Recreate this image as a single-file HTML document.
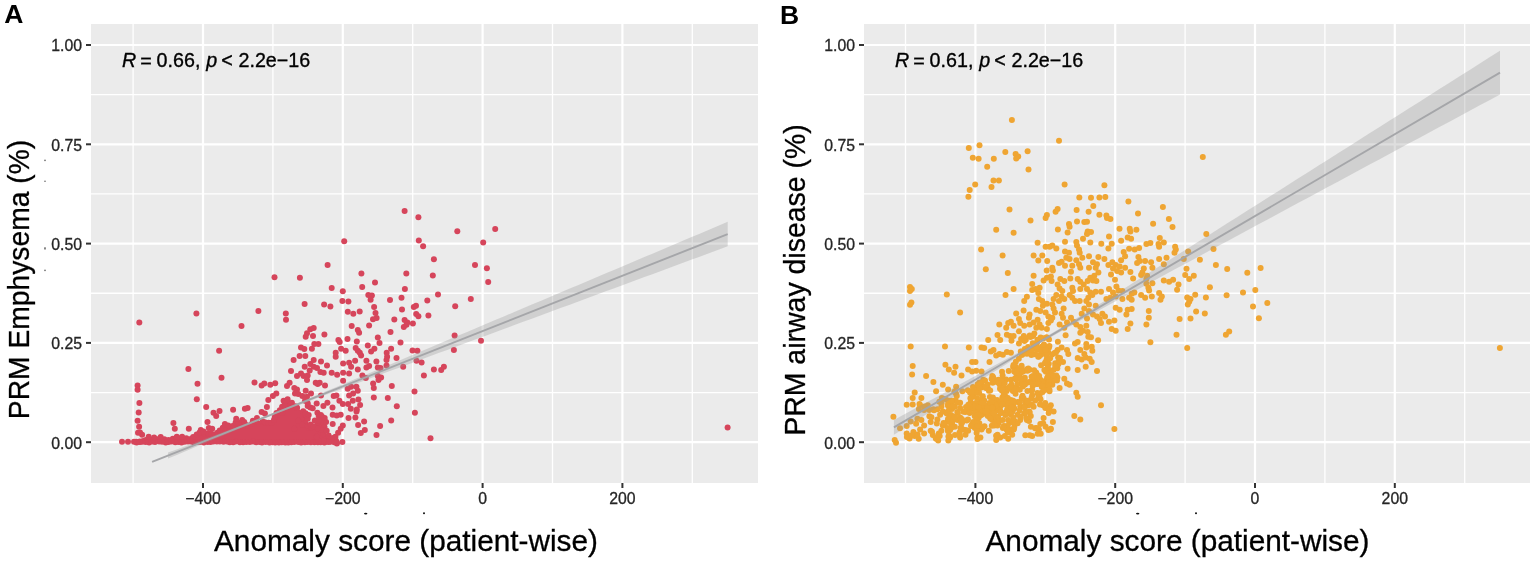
<!DOCTYPE html><html><head><meta charset="utf-8"><style>html,body{margin:0;padding:0;background:#fff;width:1535px;height:562px;overflow:hidden}svg{display:block}</style></head><body>
<svg width="1535" height="562" viewBox="0 0 1535 562">
<style>.tk{font-family:"Liberation Sans",Arial,sans-serif;font-size:15.8px;fill:#262626;stroke:#262626;stroke-width:0.3px}.rt{font-family:"Liberation Sans",Arial,sans-serif;font-size:19.7px;fill:#000;stroke:#000;stroke-width:0.35px}.at{font-family:"Liberation Sans",Arial,sans-serif;font-size:30px;fill:#000;stroke:#000;stroke-width:0.3px}.pl{font-family:"Liberation Sans",Arial,sans-serif;font-size:26.5px;font-weight:bold;fill:#000}</style>
<rect x="91" y="24" width="667" height="459" fill="#ebebeb"/>
<line x1="91" x2="758" y1="392.55" y2="392.55" stroke="#fff" stroke-width="1.3"/>
<line x1="91" x2="758" y1="293.25" y2="293.25" stroke="#fff" stroke-width="1.3"/>
<line x1="91" x2="758" y1="193.95" y2="193.95" stroke="#fff" stroke-width="1.3"/>
<line x1="91" x2="758" y1="94.65" y2="94.65" stroke="#fff" stroke-width="1.3"/>
<line x1="133.10" x2="133.10" y1="24" y2="483" stroke="#fff" stroke-width="1.3"/>
<line x1="272.90" x2="272.90" y1="24" y2="483" stroke="#fff" stroke-width="1.3"/>
<line x1="412.70" x2="412.70" y1="24" y2="483" stroke="#fff" stroke-width="1.3"/>
<line x1="552.50" x2="552.50" y1="24" y2="483" stroke="#fff" stroke-width="1.3"/>
<line x1="692.30" x2="692.30" y1="24" y2="483" stroke="#fff" stroke-width="1.3"/>
<line x1="91" x2="758" y1="442.20" y2="442.20" stroke="#fff" stroke-width="2.2"/>
<line x1="91" x2="758" y1="342.90" y2="342.90" stroke="#fff" stroke-width="2.2"/>
<line x1="91" x2="758" y1="243.60" y2="243.60" stroke="#fff" stroke-width="2.2"/>
<line x1="91" x2="758" y1="144.30" y2="144.30" stroke="#fff" stroke-width="2.2"/>
<line x1="91" x2="758" y1="45.00" y2="45.00" stroke="#fff" stroke-width="2.2"/>
<line x1="203.00" x2="203.00" y1="24" y2="483" stroke="#fff" stroke-width="2.2"/>
<line x1="342.80" x2="342.80" y1="24" y2="483" stroke="#fff" stroke-width="2.2"/>
<line x1="482.60" x2="482.60" y1="24" y2="483" stroke="#fff" stroke-width="2.2"/>
<line x1="622.40" x2="622.40" y1="24" y2="483" stroke="#fff" stroke-width="2.2"/>
<g fill="#d6455b">
<polygon points="136.0,441.5 150.0,439.5 165.0,439.5 180.0,439.0 190.0,438.5 200.0,432.0 215.0,435.0 223.0,428.0 230.0,430.0 235.0,423.0 242.0,422.0 248.0,426.0 256.0,421.0 262.0,421.0 265.0,422.4 272.0,422.4 277.0,413.3 282.3,406.2 287.4,401.1 292.4,403.1 297.5,408.2 302.6,411.3 307.7,418.4 305.6,423.4 309.7,427.5 315.8,426.5 318.8,419.4 322.9,420.4 324.9,426.5 322.9,433.6 328.0,435.6 333.0,437.6 336.0,441.0 337.0,444.0 337.0,442.0 136.0,442.0"/>
<circle cx="136.1" cy="441.8" r="3.0"/>
<circle cx="139.9" cy="441.5" r="3.0"/>
<circle cx="143.3" cy="441.0" r="3.0"/>
<circle cx="145.9" cy="440.0" r="3.0"/>
<circle cx="150.5" cy="439.7" r="3.0"/>
<circle cx="154.2" cy="439.0" r="3.0"/>
<circle cx="157.5" cy="439.2" r="3.0"/>
<circle cx="161.3" cy="439.6" r="3.0"/>
<circle cx="164.4" cy="439.2" r="3.0"/>
<circle cx="168.5" cy="439.9" r="3.0"/>
<circle cx="172.8" cy="438.8" r="3.0"/>
<circle cx="176.6" cy="438.7" r="3.0"/>
<circle cx="180.1" cy="438.6" r="3.0"/>
<circle cx="182.7" cy="439.3" r="3.0"/>
<circle cx="186.3" cy="438.3" r="3.0"/>
<circle cx="190.6" cy="438.9" r="3.0"/>
<circle cx="193.1" cy="436.9" r="3.0"/>
<circle cx="196.7" cy="434.4" r="3.0"/>
<circle cx="199.6" cy="432.5" r="3.0"/>
<circle cx="204.0" cy="433.3" r="3.0"/>
<circle cx="208.0" cy="433.3" r="3.0"/>
<circle cx="211.1" cy="433.8" r="3.0"/>
<circle cx="214.6" cy="434.5" r="3.0"/>
<circle cx="217.4" cy="432.8" r="3.0"/>
<circle cx="219.7" cy="430.5" r="3.0"/>
<circle cx="222.8" cy="427.8" r="3.0"/>
<circle cx="226.9" cy="429.0" r="3.0"/>
<circle cx="229.8" cy="430.0" r="3.0"/>
<circle cx="232.7" cy="426.0" r="3.0"/>
<circle cx="235.6" cy="422.4" r="3.0"/>
<circle cx="238.8" cy="422.9" r="3.0"/>
<circle cx="241.4" cy="422.3" r="3.0"/>
<circle cx="244.8" cy="424.1" r="3.0"/>
<circle cx="247.4" cy="425.5" r="3.0"/>
<circle cx="251.6" cy="424.0" r="3.0"/>
<circle cx="255.6" cy="421.3" r="3.0"/>
<circle cx="262.5" cy="421.5" r="3.0"/>
<circle cx="264.8" cy="422.2" r="3.0"/>
<circle cx="268.5" cy="422.7" r="3.0"/>
<circle cx="271.5" cy="422.7" r="3.0"/>
<circle cx="274.0" cy="419.8" r="3.0"/>
<circle cx="274.8" cy="416.9" r="3.0"/>
<circle cx="276.5" cy="413.1" r="3.0"/>
<circle cx="279.8" cy="410.3" r="3.0"/>
<circle cx="282.1" cy="406.7" r="3.0"/>
<circle cx="284.9" cy="403.4" r="3.0"/>
<circle cx="287.2" cy="400.7" r="3.0"/>
<circle cx="291.9" cy="402.7" r="3.0"/>
<circle cx="295.2" cy="406.2" r="3.0"/>
<circle cx="297.1" cy="407.7" r="3.0"/>
<circle cx="303.2" cy="411.3" r="3.0"/>
<circle cx="305.0" cy="414.5" r="3.0"/>
<circle cx="307.8" cy="418.8" r="3.0"/>
<circle cx="305.5" cy="423.3" r="3.0"/>
<circle cx="309.2" cy="428.0" r="3.0"/>
<circle cx="315.2" cy="426.5" r="3.0"/>
<circle cx="317.7" cy="422.5" r="3.0"/>
<circle cx="319.1" cy="419.9" r="3.0"/>
<circle cx="323.1" cy="420.7" r="3.0"/>
<circle cx="323.4" cy="423.4" r="3.0"/>
<circle cx="324.5" cy="426.9" r="3.0"/>
<circle cx="323.7" cy="430.0" r="3.0"/>
<circle cx="323.5" cy="434.0" r="3.0"/>
<circle cx="328.6" cy="435.5" r="3.0"/>
<circle cx="333.0" cy="437.9" r="3.0"/>
<circle cx="336.0" cy="440.7" r="3.0"/>
<circle cx="336.9" cy="443.6" r="3.0"/>
<circle cx="336.9" cy="442.6" r="3.0"/>
<circle cx="334.3" cy="442.2" r="3.0"/>
<circle cx="330.5" cy="441.8" r="3.0"/>
<circle cx="326.8" cy="441.7" r="3.0"/>
<circle cx="324.4" cy="442.4" r="3.0"/>
<circle cx="320.6" cy="442.3" r="3.0"/>
<circle cx="317.9" cy="442.2" r="3.0"/>
<circle cx="314.5" cy="442.3" r="3.0"/>
<circle cx="310.9" cy="442.2" r="3.0"/>
<circle cx="307.6" cy="442.0" r="3.0"/>
<circle cx="304.9" cy="442.2" r="3.0"/>
<circle cx="301.1" cy="442.5" r="3.0"/>
<circle cx="298.3" cy="442.1" r="3.0"/>
<circle cx="294.3" cy="442.1" r="3.0"/>
<circle cx="291.3" cy="442.2" r="3.0"/>
<circle cx="288.3" cy="442.4" r="3.0"/>
<circle cx="285.3" cy="442.4" r="3.0"/>
<circle cx="281.7" cy="442.2" r="3.0"/>
<circle cx="278.9" cy="442.4" r="3.0"/>
<circle cx="275.2" cy="442.4" r="3.0"/>
<circle cx="272.6" cy="442.2" r="3.0"/>
<circle cx="269.5" cy="442.5" r="3.0"/>
<circle cx="265.7" cy="442.0" r="3.0"/>
<circle cx="262.0" cy="442.4" r="3.0"/>
<circle cx="259.7" cy="442.0" r="3.0"/>
<circle cx="256.2" cy="442.3" r="3.0"/>
<circle cx="253.0" cy="441.6" r="3.0"/>
<circle cx="249.8" cy="442.1" r="3.0"/>
<circle cx="246.4" cy="441.9" r="3.0"/>
<circle cx="243.1" cy="442.3" r="3.0"/>
<circle cx="239.9" cy="442.3" r="3.0"/>
<circle cx="235.9" cy="441.6" r="3.0"/>
<circle cx="233.2" cy="442.2" r="3.0"/>
<circle cx="229.7" cy="442.2" r="3.0"/>
<circle cx="226.9" cy="441.5" r="3.0"/>
<circle cx="223.5" cy="441.7" r="3.0"/>
<circle cx="219.8" cy="441.6" r="3.0"/>
<circle cx="216.8" cy="441.6" r="3.0"/>
<circle cx="213.4" cy="441.4" r="3.0"/>
<circle cx="210.5" cy="441.9" r="3.0"/>
<circle cx="207.5" cy="442.1" r="3.0"/>
<circle cx="203.8" cy="442.5" r="3.0"/>
<circle cx="200.2" cy="441.9" r="3.0"/>
<circle cx="197.3" cy="441.9" r="3.0"/>
<circle cx="193.9" cy="442.4" r="3.0"/>
<circle cx="191.0" cy="441.4" r="3.0"/>
<circle cx="188.0" cy="441.5" r="3.0"/>
<circle cx="184.7" cy="441.8" r="3.0"/>
<circle cx="181.5" cy="442.5" r="3.0"/>
<circle cx="178.5" cy="441.9" r="3.0"/>
<circle cx="175.3" cy="442.2" r="3.0"/>
<circle cx="171.5" cy="441.6" r="3.0"/>
<circle cx="168.5" cy="442.1" r="3.0"/>
<circle cx="165.7" cy="442.6" r="3.0"/>
<circle cx="162.1" cy="441.8" r="3.0"/>
<circle cx="159.2" cy="441.4" r="3.0"/>
<circle cx="155.0" cy="442.1" r="3.0"/>
<circle cx="152.3" cy="441.6" r="3.0"/>
<circle cx="149.1" cy="442.5" r="3.0"/>
<circle cx="145.6" cy="441.9" r="3.0"/>
<circle cx="142.2" cy="441.7" r="3.0"/>
<circle cx="139.8" cy="441.9" r="3.0"/>
<circle cx="136.6" cy="442.5" r="3.0"/>
<circle cx="404.6" cy="211.1" r="3.0"/>
<circle cx="418.4" cy="217.2" r="3.0"/>
<circle cx="344.2" cy="241.2" r="3.0"/>
<circle cx="418.8" cy="240.6" r="3.0"/>
<circle cx="423.1" cy="246.3" r="3.0"/>
<circle cx="433.9" cy="259.3" r="3.0"/>
<circle cx="274.5" cy="277.3" r="3.0"/>
<circle cx="196.4" cy="313.6" r="3.0"/>
<circle cx="258.4" cy="311.0" r="3.0"/>
<circle cx="139.3" cy="322.4" r="3.0"/>
<circle cx="327.6" cy="265.1" r="3.0"/>
<circle cx="299.9" cy="277.8" r="3.0"/>
<circle cx="361.4" cy="273.6" r="3.0"/>
<circle cx="406.3" cy="273.4" r="3.0"/>
<circle cx="432.8" cy="275.5" r="3.0"/>
<circle cx="375.0" cy="282.6" r="3.0"/>
<circle cx="362.2" cy="286.9" r="3.0"/>
<circle cx="331.7" cy="288.0" r="3.0"/>
<circle cx="342.8" cy="291.2" r="3.0"/>
<circle cx="404.9" cy="288.9" r="3.0"/>
<circle cx="438.0" cy="294.4" r="3.0"/>
<circle cx="368.3" cy="295.0" r="3.0"/>
<circle cx="371.9" cy="295.4" r="3.0"/>
<circle cx="370.6" cy="299.7" r="3.0"/>
<circle cx="390.0" cy="300.0" r="3.0"/>
<circle cx="401.5" cy="297.8" r="3.0"/>
<circle cx="427.3" cy="300.5" r="3.0"/>
<circle cx="304.6" cy="303.9" r="3.0"/>
<circle cx="324.1" cy="304.4" r="3.0"/>
<circle cx="330.4" cy="306.6" r="3.0"/>
<circle cx="342.4" cy="301.0" r="3.0"/>
<circle cx="348.4" cy="301.6" r="3.0"/>
<circle cx="374.1" cy="307.1" r="3.0"/>
<circle cx="402.0" cy="309.6" r="3.0"/>
<circle cx="413.8" cy="306.9" r="3.0"/>
<circle cx="416.0" cy="305.7" r="3.0"/>
<circle cx="285.8" cy="313.5" r="3.0"/>
<circle cx="286.0" cy="319.8" r="3.0"/>
<circle cx="347.8" cy="311.8" r="3.0"/>
<circle cx="353.3" cy="313.7" r="3.0"/>
<circle cx="359.7" cy="311.5" r="3.0"/>
<circle cx="375.5" cy="312.9" r="3.0"/>
<circle cx="376.6" cy="317.9" r="3.0"/>
<circle cx="373.0" cy="319.3" r="3.0"/>
<circle cx="394.3" cy="319.6" r="3.0"/>
<circle cx="416.2" cy="314.1" r="3.0"/>
<circle cx="418.4" cy="316.3" r="3.0"/>
<circle cx="428.4" cy="315.4" r="3.0"/>
<circle cx="404.6" cy="320.1" r="3.0"/>
<circle cx="407.4" cy="322.4" r="3.0"/>
<circle cx="412.9" cy="323.5" r="3.0"/>
<circle cx="457.3" cy="231.3" r="3.0"/>
<circle cx="495.2" cy="229.0" r="3.0"/>
<circle cx="483.2" cy="242.4" r="3.0"/>
<circle cx="475.0" cy="265.0" r="3.0"/>
<circle cx="486.9" cy="268.2" r="3.0"/>
<circle cx="488.2" cy="282.0" r="3.0"/>
<circle cx="470.8" cy="299.1" r="3.0"/>
<circle cx="455.2" cy="306.3" r="3.0"/>
<circle cx="241.5" cy="326.0" r="3.0"/>
<circle cx="219.1" cy="350.7" r="3.0"/>
<circle cx="188.4" cy="369.1" r="3.0"/>
<circle cx="221.5" cy="377.8" r="3.0"/>
<circle cx="197.5" cy="383.8" r="3.0"/>
<circle cx="137.6" cy="385.4" r="3.0"/>
<circle cx="137.6" cy="389.7" r="3.0"/>
<circle cx="254.5" cy="382.4" r="3.0"/>
<circle cx="261.6" cy="385.4" r="3.0"/>
<circle cx="264.3" cy="383.4" r="3.0"/>
<circle cx="270.3" cy="384.8" r="3.0"/>
<circle cx="275.2" cy="383.2" r="3.0"/>
<circle cx="276.3" cy="393.4" r="3.0"/>
<circle cx="272.9" cy="396.1" r="3.0"/>
<circle cx="287.0" cy="386.1" r="3.0"/>
<circle cx="289.6" cy="382.8" r="3.0"/>
<circle cx="294.3" cy="388.1" r="3.0"/>
<circle cx="297.0" cy="389.4" r="3.0"/>
<circle cx="295.0" cy="393.4" r="3.0"/>
<circle cx="298.3" cy="394.1" r="3.0"/>
<circle cx="305.7" cy="390.8" r="3.0"/>
<circle cx="311.0" cy="393.4" r="3.0"/>
<circle cx="302.3" cy="396.1" r="3.0"/>
<circle cx="307.0" cy="396.8" r="3.0"/>
<circle cx="291.0" cy="371.1" r="3.0"/>
<circle cx="293.6" cy="360.1" r="3.0"/>
<circle cx="299.6" cy="356.1" r="3.0"/>
<circle cx="305.3" cy="356.1" r="3.0"/>
<circle cx="301.0" cy="347.4" r="3.0"/>
<circle cx="304.3" cy="349.1" r="3.0"/>
<circle cx="311.9" cy="348.7" r="3.0"/>
<circle cx="304.7" cy="366.7" r="3.0"/>
<circle cx="309.7" cy="370.5" r="3.0"/>
<circle cx="310.3" cy="364.1" r="3.0"/>
<circle cx="313.7" cy="366.7" r="3.0"/>
<circle cx="297.0" cy="376.1" r="3.0"/>
<circle cx="301.0" cy="373.4" r="3.0"/>
<circle cx="303.6" cy="376.1" r="3.0"/>
<circle cx="307.7" cy="375.4" r="3.0"/>
<circle cx="307.0" cy="380.1" r="3.0"/>
<circle cx="305.7" cy="336.7" r="3.0"/>
<circle cx="307.0" cy="333.3" r="3.0"/>
<circle cx="310.3" cy="329.3" r="3.0"/>
<circle cx="313.7" cy="328.0" r="3.0"/>
<circle cx="313.0" cy="336.0" r="3.0"/>
<circle cx="314.3" cy="344.0" r="3.0"/>
<circle cx="313.7" cy="360.1" r="3.0"/>
<circle cx="324.4" cy="334.4" r="3.0"/>
<circle cx="351.7" cy="326.0" r="3.0"/>
<circle cx="369.1" cy="325.6" r="3.0"/>
<circle cx="357.8" cy="330.0" r="3.0"/>
<circle cx="359.1" cy="332.7" r="3.0"/>
<circle cx="403.8" cy="326.9" r="3.0"/>
<circle cx="406.5" cy="324.7" r="3.0"/>
<circle cx="390.5" cy="332.0" r="3.0"/>
<circle cx="454.6" cy="335.4" r="3.0"/>
<circle cx="481.0" cy="340.7" r="3.0"/>
<circle cx="377.8" cy="337.4" r="3.0"/>
<circle cx="379.5" cy="343.1" r="3.0"/>
<circle cx="367.8" cy="345.4" r="3.0"/>
<circle cx="374.4" cy="348.7" r="3.0"/>
<circle cx="371.1" cy="351.4" r="3.0"/>
<circle cx="400.5" cy="342.4" r="3.0"/>
<circle cx="391.1" cy="348.7" r="3.0"/>
<circle cx="412.5" cy="350.4" r="3.0"/>
<circle cx="417.4" cy="350.7" r="3.0"/>
<circle cx="453.9" cy="350.0" r="3.0"/>
<circle cx="338.4" cy="340.0" r="3.0"/>
<circle cx="339.7" cy="342.0" r="3.0"/>
<circle cx="347.5" cy="339.0" r="3.0"/>
<circle cx="356.8" cy="341.6" r="3.0"/>
<circle cx="318.4" cy="344.0" r="3.0"/>
<circle cx="341.1" cy="348.7" r="3.0"/>
<circle cx="345.7" cy="350.7" r="3.0"/>
<circle cx="355.7" cy="348.0" r="3.0"/>
<circle cx="357.8" cy="350.7" r="3.0"/>
<circle cx="359.8" cy="352.7" r="3.0"/>
<circle cx="361.1" cy="355.4" r="3.0"/>
<circle cx="335.7" cy="352.7" r="3.0"/>
<circle cx="335.7" cy="356.7" r="3.0"/>
<circle cx="355.1" cy="360.7" r="3.0"/>
<circle cx="366.4" cy="360.7" r="3.0"/>
<circle cx="376.4" cy="361.4" r="3.0"/>
<circle cx="386.7" cy="352.7" r="3.0"/>
<circle cx="387.1" cy="356.7" r="3.0"/>
<circle cx="386.5" cy="360.1" r="3.0"/>
<circle cx="396.5" cy="358.1" r="3.0"/>
<circle cx="416.5" cy="360.7" r="3.0"/>
<circle cx="421.6" cy="362.5" r="3.0"/>
<circle cx="403.2" cy="366.7" r="3.0"/>
<circle cx="433.9" cy="369.4" r="3.0"/>
<circle cx="441.2" cy="370.1" r="3.0"/>
<circle cx="443.9" cy="366.7" r="3.0"/>
<circle cx="423.9" cy="375.4" r="3.0"/>
<circle cx="343.1" cy="363.4" r="3.0"/>
<circle cx="349.1" cy="362.7" r="3.0"/>
<circle cx="351.1" cy="366.7" r="3.0"/>
<circle cx="357.8" cy="369.4" r="3.0"/>
<circle cx="366.4" cy="367.4" r="3.0"/>
<circle cx="369.1" cy="366.1" r="3.0"/>
<circle cx="377.8" cy="367.4" r="3.0"/>
<circle cx="380.5" cy="368.1" r="3.0"/>
<circle cx="386.5" cy="365.4" r="3.0"/>
<circle cx="327.0" cy="365.4" r="3.0"/>
<circle cx="321.0" cy="361.4" r="3.0"/>
<circle cx="317.0" cy="368.1" r="3.0"/>
<circle cx="320.4" cy="372.1" r="3.0"/>
<circle cx="323.7" cy="372.7" r="3.0"/>
<circle cx="331.7" cy="372.7" r="3.0"/>
<circle cx="337.1" cy="374.7" r="3.0"/>
<circle cx="343.1" cy="372.7" r="3.0"/>
<circle cx="349.1" cy="373.4" r="3.0"/>
<circle cx="362.4" cy="375.4" r="3.0"/>
<circle cx="365.8" cy="378.1" r="3.0"/>
<circle cx="377.8" cy="376.1" r="3.0"/>
<circle cx="381.1" cy="377.4" r="3.0"/>
<circle cx="378.5" cy="380.1" r="3.0"/>
<circle cx="373.1" cy="383.4" r="3.0"/>
<circle cx="373.8" cy="388.1" r="3.0"/>
<circle cx="391.8" cy="386.1" r="3.0"/>
<circle cx="414.5" cy="391.4" r="3.0"/>
<circle cx="343.1" cy="380.8" r="3.0"/>
<circle cx="325.0" cy="385.4" r="3.0"/>
<circle cx="315.7" cy="382.8" r="3.0"/>
<circle cx="317.7" cy="384.1" r="3.0"/>
<circle cx="319.7" cy="382.8" r="3.0"/>
<circle cx="347.7" cy="388.8" r="3.0"/>
<circle cx="351.1" cy="386.8" r="3.0"/>
<circle cx="356.4" cy="386.8" r="3.0"/>
<circle cx="357.8" cy="390.8" r="3.0"/>
<circle cx="353.1" cy="393.4" r="3.0"/>
<circle cx="349.1" cy="395.4" r="3.0"/>
<circle cx="333.7" cy="396.1" r="3.0"/>
<circle cx="336.4" cy="395.4" r="3.0"/>
<circle cx="321.0" cy="395.4" r="3.0"/>
<circle cx="373.8" cy="397.5" r="3.0"/>
<circle cx="387.8" cy="398.1" r="3.0"/>
<circle cx="139.4" cy="403.1" r="3.0"/>
<circle cx="138.7" cy="412.4" r="3.0"/>
<circle cx="137.6" cy="420.7" r="3.0"/>
<circle cx="139.1" cy="426.7" r="3.0"/>
<circle cx="140.0" cy="432.5" r="3.0"/>
<circle cx="142.1" cy="434.7" r="3.0"/>
<circle cx="138.0" cy="432.7" r="3.0"/>
<circle cx="196.8" cy="399.3" r="3.0"/>
<circle cx="206.2" cy="407.1" r="3.0"/>
<circle cx="213.5" cy="412.7" r="3.0"/>
<circle cx="216.2" cy="416.0" r="3.0"/>
<circle cx="219.5" cy="411.1" r="3.0"/>
<circle cx="233.1" cy="409.8" r="3.0"/>
<circle cx="244.9" cy="408.7" r="3.0"/>
<circle cx="247.6" cy="408.0" r="3.0"/>
<circle cx="268.3" cy="400.0" r="3.0"/>
<circle cx="266.9" cy="407.1" r="3.0"/>
<circle cx="207.5" cy="422.1" r="3.0"/>
<circle cx="173.4" cy="423.1" r="3.0"/>
<circle cx="174.8" cy="428.7" r="3.0"/>
<circle cx="188.8" cy="428.7" r="3.0"/>
<circle cx="208.8" cy="428.1" r="3.0"/>
<circle cx="212.2" cy="428.7" r="3.0"/>
<circle cx="200.8" cy="430.1" r="3.0"/>
<circle cx="203.5" cy="431.4" r="3.0"/>
<circle cx="224.9" cy="424.1" r="3.0"/>
<circle cx="228.2" cy="425.4" r="3.0"/>
<circle cx="236.2" cy="418.7" r="3.0"/>
<circle cx="242.2" cy="420.0" r="3.0"/>
<circle cx="244.2" cy="422.1" r="3.0"/>
<circle cx="261.6" cy="412.0" r="3.0"/>
<circle cx="264.9" cy="413.4" r="3.0"/>
<circle cx="256.9" cy="418.0" r="3.0"/>
<circle cx="252.9" cy="420.7" r="3.0"/>
<circle cx="148.7" cy="436.7" r="3.0"/>
<circle cx="154.1" cy="437.4" r="3.0"/>
<circle cx="160.7" cy="437.0" r="3.0"/>
<circle cx="176.8" cy="436.7" r="3.0"/>
<circle cx="182.1" cy="436.7" r="3.0"/>
<circle cx="122.0" cy="441.8" r="3.0"/>
<circle cx="128.0" cy="441.8" r="3.0"/>
<circle cx="134.0" cy="441.8" r="3.0"/>
<circle cx="283.6" cy="400.7" r="3.0"/>
<circle cx="287.6" cy="399.3" r="3.0"/>
<circle cx="305.0" cy="400.7" r="3.0"/>
<circle cx="307.7" cy="406.0" r="3.0"/>
<circle cx="310.3" cy="407.4" r="3.0"/>
<circle cx="306.3" cy="415.4" r="3.0"/>
<circle cx="298.3" cy="420.7" r="3.0"/>
<circle cx="302.3" cy="424.7" r="3.0"/>
<circle cx="307.7" cy="426.1" r="3.0"/>
<circle cx="311.0" cy="427.4" r="3.0"/>
<circle cx="294.3" cy="428.7" r="3.0"/>
<circle cx="282.3" cy="412.7" r="3.0"/>
<circle cx="285.0" cy="406.0" r="3.0"/>
<circle cx="396.8" cy="406.3" r="3.0"/>
<circle cx="414.9" cy="412.7" r="3.0"/>
<circle cx="391.2" cy="420.4" r="3.0"/>
<circle cx="380.1" cy="426.1" r="3.0"/>
<circle cx="364.1" cy="421.4" r="3.0"/>
<circle cx="358.1" cy="425.0" r="3.0"/>
<circle cx="364.8" cy="430.1" r="3.0"/>
<circle cx="360.8" cy="433.0" r="3.0"/>
<circle cx="376.5" cy="435.1" r="3.0"/>
<circle cx="430.5" cy="438.3" r="3.0"/>
<circle cx="342.4" cy="442.1" r="3.0"/>
<circle cx="348.5" cy="418.0" r="3.0"/>
<circle cx="355.4" cy="417.4" r="3.0"/>
<circle cx="356.5" cy="411.4" r="3.0"/>
<circle cx="356.8" cy="409.4" r="3.0"/>
<circle cx="350.8" cy="408.7" r="3.0"/>
<circle cx="348.1" cy="404.0" r="3.0"/>
<circle cx="342.8" cy="404.0" r="3.0"/>
<circle cx="339.4" cy="400.7" r="3.0"/>
<circle cx="360.1" cy="405.0" r="3.0"/>
<circle cx="358.4" cy="399.6" r="3.0"/>
<circle cx="352.8" cy="400.7" r="3.0"/>
<circle cx="332.7" cy="414.7" r="3.0"/>
<circle cx="336.7" cy="415.4" r="3.0"/>
<circle cx="340.7" cy="414.7" r="3.0"/>
<circle cx="332.7" cy="424.1" r="3.0"/>
<circle cx="326.7" cy="430.7" r="3.0"/>
<circle cx="326.1" cy="422.1" r="3.0"/>
<circle cx="323.4" cy="406.0" r="3.0"/>
<circle cx="327.4" cy="402.7" r="3.0"/>
<circle cx="332.5" cy="407.4" r="3.0"/>
<circle cx="316.7" cy="403.4" r="3.0"/>
<circle cx="342.8" cy="425.4" r="3.0"/>
<circle cx="340.7" cy="428.7" r="3.0"/>
<circle cx="338.1" cy="432.7" r="3.0"/>
<circle cx="335.4" cy="436.7" r="3.0"/>
<circle cx="331.4" cy="438.7" r="3.0"/>
<circle cx="328.7" cy="442.1" r="3.0"/>
<circle cx="323.4" cy="440.7" r="3.0"/>
<circle cx="318.7" cy="440.7" r="3.0"/>
<circle cx="316.7" cy="436.7" r="3.0"/>
<circle cx="320.7" cy="430.1" r="3.0"/>
<circle cx="318.7" cy="416.0" r="3.0"/>
<circle cx="317.4" cy="412.7" r="3.0"/>
<circle cx="322.1" cy="416.7" r="3.0"/>
<circle cx="324.7" cy="418.0" r="3.0"/>
<circle cx="727.6" cy="427.6" r="3.0"/>
<circle cx="307.7" cy="403.2" r="3.0"/>
<circle cx="312.7" cy="408.3" r="3.0"/>
<circle cx="305.6" cy="413.3" r="3.0"/>
<circle cx="308.7" cy="414.9" r="3.0"/>
<circle cx="320.9" cy="414.9" r="3.0"/>
<circle cx="314.8" cy="420.4" r="3.0"/>
<circle cx="318.8" cy="420.4" r="3.0"/>
<circle cx="310.7" cy="424.5" r="3.0"/>
<circle cx="313.7" cy="426.5" r="3.0"/>
<circle cx="317.8" cy="428.6" r="3.0"/>
</g>
<polygon points="168.00,452.61 177.33,449.15 186.66,445.69 195.99,442.22 205.31,438.75 214.64,435.27 223.97,431.78 233.30,428.28 242.63,424.76 251.95,421.20 261.28,417.61 270.61,413.96 279.94,410.25 289.27,406.49 298.60,402.68 307.93,398.83 317.25,394.96 326.58,391.07 335.91,387.17 345.24,383.26 354.57,379.35 363.89,375.43 373.22,371.50 382.55,367.58 391.88,363.65 401.21,359.72 410.54,355.78 419.87,351.85 429.19,347.92 438.52,343.98 447.85,340.05 457.18,336.11 466.51,332.17 475.84,328.23 485.16,324.30 494.49,320.36 503.82,316.42 513.15,312.48 522.48,308.54 531.81,304.60 541.13,300.66 550.46,296.72 559.79,292.78 569.12,288.84 578.45,284.90 587.78,280.96 597.10,277.02 606.43,273.08 615.76,269.14 625.09,265.20 634.42,261.26 643.75,257.32 653.07,253.38 662.40,249.44 671.73,245.50 681.06,241.56 690.39,237.61 699.72,233.67 709.04,229.73 718.37,225.79 727.70,221.85 727.70,246.35 718.37,249.79 709.04,253.23 699.72,256.68 690.39,260.12 681.06,263.56 671.73,267.00 662.40,270.45 653.07,273.89 643.75,277.33 634.42,280.78 625.09,284.22 615.76,287.66 606.43,291.10 597.10,294.55 587.78,297.99 578.45,301.43 569.12,304.88 559.79,308.32 550.46,311.77 541.13,315.21 531.81,318.65 522.48,322.10 513.15,325.54 503.82,328.99 494.49,332.43 485.16,335.88 475.84,339.32 466.51,342.77 457.18,346.22 447.85,349.66 438.52,353.11 429.19,356.56 419.87,360.01 410.54,363.46 401.21,366.91 391.88,370.36 382.55,373.82 373.22,377.27 363.89,380.73 354.57,384.20 345.24,387.66 335.91,391.14 326.58,394.62 317.25,398.12 307.93,401.63 298.60,405.17 289.27,408.74 279.94,412.36 270.61,416.04 261.28,419.77 251.95,423.56 242.63,427.39 233.30,431.25 223.97,435.13 214.64,439.02 205.31,442.93 195.99,446.84 186.66,450.76 177.33,454.68 168.00,458.61" fill="#999" fill-opacity="0.32"/>
<line x1="152.1" y1="461.9" x2="727.7" y2="234.1" stroke="#a5a6a9" stroke-width="1.9"/>
<line x1="86" x2="91" y1="442.20" y2="442.20" stroke="#333" stroke-width="2"/>
<text x="82" y="448.60" text-anchor="end" class="tk">0.00</text>
<line x1="86" x2="91" y1="342.90" y2="342.90" stroke="#333" stroke-width="2"/>
<text x="82" y="349.30" text-anchor="end" class="tk">0.25</text>
<line x1="86" x2="91" y1="243.60" y2="243.60" stroke="#333" stroke-width="2"/>
<text x="82" y="250.00" text-anchor="end" class="tk">0.50</text>
<line x1="86" x2="91" y1="144.30" y2="144.30" stroke="#333" stroke-width="2"/>
<text x="82" y="150.70" text-anchor="end" class="tk">0.75</text>
<line x1="86" x2="91" y1="45.00" y2="45.00" stroke="#333" stroke-width="2"/>
<text x="82" y="51.40" text-anchor="end" class="tk">1.00</text>
<line x1="203.00" x2="203.00" y1="483" y2="488" stroke="#333" stroke-width="2"/>
<text x="203.00" y="504.4" text-anchor="middle" class="tk">−400</text>
<line x1="342.80" x2="342.80" y1="483" y2="488" stroke="#333" stroke-width="2"/>
<text x="342.80" y="504.4" text-anchor="middle" class="tk">−200</text>
<line x1="482.60" x2="482.60" y1="483" y2="488" stroke="#333" stroke-width="2"/>
<text x="482.60" y="504.4" text-anchor="middle" class="tk">0</text>
<line x1="622.40" x2="622.40" y1="483" y2="488" stroke="#333" stroke-width="2"/>
<text x="622.40" y="504.4" text-anchor="middle" class="tk">200</text>
<text y="66.6" class="rt">
<tspan x="121.90" y="66.6" font-style="italic">R</tspan>
<tspan x="140.30" y="68">=</tspan>
<tspan x="156.60" y="66.6">0.66,</tspan>
<tspan x="206.20" y="66.6" font-style="italic">p</tspan>
<tspan x="221.30" y="66.6">&lt;</tspan>
<tspan x="238.50" y="66.6">2.2e−16</tspan>
</text>
<text x="214" y="551" class="at" textLength="384" lengthAdjust="spacingAndGlyphs">Anomaly score (patient-wise)</text>
<text transform="translate(29.4,419.2) rotate(-90)" x="0" y="0" class="at" textLength="279.4" lengthAdjust="spacingAndGlyphs">PRM Emphysema (%)</text>
<rect x="864" y="24" width="666" height="459" fill="#ebebeb"/>
<line x1="864" x2="1530" y1="392.55" y2="392.55" stroke="#fff" stroke-width="1.3"/>
<line x1="864" x2="1530" y1="293.25" y2="293.25" stroke="#fff" stroke-width="1.3"/>
<line x1="864" x2="1530" y1="193.95" y2="193.95" stroke="#fff" stroke-width="1.3"/>
<line x1="864" x2="1530" y1="94.65" y2="94.65" stroke="#fff" stroke-width="1.3"/>
<line x1="905.50" x2="905.50" y1="24" y2="483" stroke="#fff" stroke-width="1.3"/>
<line x1="1045.30" x2="1045.30" y1="24" y2="483" stroke="#fff" stroke-width="1.3"/>
<line x1="1185.10" x2="1185.10" y1="24" y2="483" stroke="#fff" stroke-width="1.3"/>
<line x1="1324.90" x2="1324.90" y1="24" y2="483" stroke="#fff" stroke-width="1.3"/>
<line x1="1464.70" x2="1464.70" y1="24" y2="483" stroke="#fff" stroke-width="1.3"/>
<line x1="864" x2="1530" y1="442.20" y2="442.20" stroke="#fff" stroke-width="2.2"/>
<line x1="864" x2="1530" y1="342.90" y2="342.90" stroke="#fff" stroke-width="2.2"/>
<line x1="864" x2="1530" y1="243.60" y2="243.60" stroke="#fff" stroke-width="2.2"/>
<line x1="864" x2="1530" y1="144.30" y2="144.30" stroke="#fff" stroke-width="2.2"/>
<line x1="864" x2="1530" y1="45.00" y2="45.00" stroke="#fff" stroke-width="2.2"/>
<line x1="975.40" x2="975.40" y1="24" y2="483" stroke="#fff" stroke-width="2.2"/>
<line x1="1115.20" x2="1115.20" y1="24" y2="483" stroke="#fff" stroke-width="2.2"/>
<line x1="1255.00" x2="1255.00" y1="24" y2="483" stroke="#fff" stroke-width="2.2"/>
<line x1="1394.80" x2="1394.80" y1="24" y2="483" stroke="#fff" stroke-width="2.2"/>
<g fill="#efa532">
<circle cx="1011.9" cy="120.1" r="3.0"/>
<circle cx="1059.0" cy="140.8" r="3.0"/>
<circle cx="968.8" cy="148.0" r="3.0"/>
<circle cx="979.5" cy="145.3" r="3.0"/>
<circle cx="972.8" cy="157.8" r="3.0"/>
<circle cx="978.6" cy="158.8" r="3.0"/>
<circle cx="993.8" cy="158.8" r="3.0"/>
<circle cx="1005.3" cy="152.0" r="3.0"/>
<circle cx="1015.6" cy="154.1" r="3.0"/>
<circle cx="1018.2" cy="156.4" r="3.0"/>
<circle cx="1016.2" cy="158.4" r="3.0"/>
<circle cx="1027.6" cy="151.2" r="3.0"/>
<circle cx="1028.5" cy="169.5" r="3.0"/>
<circle cx="987.2" cy="166.8" r="3.0"/>
<circle cx="1202.8" cy="157.1" r="3.0"/>
<circle cx="993.5" cy="180.4" r="3.0"/>
<circle cx="998.9" cy="180.4" r="3.0"/>
<circle cx="975.2" cy="184.4" r="3.0"/>
<circle cx="969.7" cy="190.0" r="3.0"/>
<circle cx="968.4" cy="196.7" r="3.0"/>
<circle cx="991.5" cy="186.9" r="3.0"/>
<circle cx="1064.6" cy="184.4" r="3.0"/>
<circle cx="1079.3" cy="197.6" r="3.0"/>
<circle cx="1009.5" cy="209.6" r="3.0"/>
<circle cx="1030.5" cy="220.5" r="3.0"/>
<circle cx="996.2" cy="229.8" r="3.0"/>
<circle cx="1013.6" cy="232.8" r="3.0"/>
<circle cx="1057.6" cy="209.1" r="3.0"/>
<circle cx="1055.6" cy="211.7" r="3.0"/>
<circle cx="1046.9" cy="215.0" r="3.0"/>
<circle cx="1045.6" cy="218.1" r="3.0"/>
<circle cx="1076.6" cy="210.0" r="3.0"/>
<circle cx="1077.0" cy="221.4" r="3.0"/>
<circle cx="1069.0" cy="224.1" r="3.0"/>
<circle cx="1069.6" cy="226.7" r="3.0"/>
<circle cx="1057.9" cy="229.4" r="3.0"/>
<circle cx="1067.6" cy="232.4" r="3.0"/>
<circle cx="1084.3" cy="222.1" r="3.0"/>
<circle cx="1083.0" cy="238.8" r="3.0"/>
<circle cx="1065.0" cy="241.7" r="3.0"/>
<circle cx="1076.3" cy="242.1" r="3.0"/>
<circle cx="1077.0" cy="245.4" r="3.0"/>
<circle cx="1079.0" cy="249.4" r="3.0"/>
<circle cx="1079.7" cy="252.8" r="3.0"/>
<circle cx="1037.6" cy="242.8" r="3.0"/>
<circle cx="1045.6" cy="246.8" r="3.0"/>
<circle cx="1049.6" cy="246.8" r="3.0"/>
<circle cx="1052.3" cy="245.4" r="3.0"/>
<circle cx="1056.3" cy="248.4" r="3.0"/>
<circle cx="1065.0" cy="251.4" r="3.0"/>
<circle cx="1069.0" cy="252.8" r="3.0"/>
<circle cx="981.1" cy="249.4" r="3.0"/>
<circle cx="1104.4" cy="185.3" r="3.0"/>
<circle cx="1091.0" cy="197.8" r="3.0"/>
<circle cx="1099.4" cy="197.4" r="3.0"/>
<circle cx="1105.3" cy="197.0" r="3.0"/>
<circle cx="1128.4" cy="201.4" r="3.0"/>
<circle cx="1162.9" cy="207.0" r="3.0"/>
<circle cx="1093.3" cy="206.0" r="3.0"/>
<circle cx="1088.6" cy="211.8" r="3.0"/>
<circle cx="1099.4" cy="214.7" r="3.0"/>
<circle cx="1106.4" cy="215.4" r="3.0"/>
<circle cx="1107.0" cy="218.1" r="3.0"/>
<circle cx="1110.4" cy="219.0" r="3.0"/>
<circle cx="1087.0" cy="221.7" r="3.0"/>
<circle cx="1138.0" cy="213.4" r="3.0"/>
<circle cx="1168.9" cy="219.0" r="3.0"/>
<circle cx="1153.1" cy="223.8" r="3.0"/>
<circle cx="1172.5" cy="227.0" r="3.0"/>
<circle cx="1119.5" cy="228.7" r="3.0"/>
<circle cx="1129.7" cy="228.7" r="3.0"/>
<circle cx="1130.4" cy="231.4" r="3.0"/>
<circle cx="1136.4" cy="229.8" r="3.0"/>
<circle cx="1087.7" cy="231.4" r="3.0"/>
<circle cx="1091.0" cy="232.1" r="3.0"/>
<circle cx="1087.0" cy="234.1" r="3.0"/>
<circle cx="1109.0" cy="236.4" r="3.0"/>
<circle cx="1127.7" cy="237.4" r="3.0"/>
<circle cx="1131.1" cy="238.8" r="3.0"/>
<circle cx="1121.1" cy="240.8" r="3.0"/>
<circle cx="1090.3" cy="242.5" r="3.0"/>
<circle cx="1101.3" cy="243.8" r="3.0"/>
<circle cx="1111.7" cy="243.8" r="3.0"/>
<circle cx="1108.4" cy="248.4" r="3.0"/>
<circle cx="1159.8" cy="238.1" r="3.0"/>
<circle cx="1163.8" cy="242.5" r="3.0"/>
<circle cx="1158.5" cy="244.1" r="3.0"/>
<circle cx="1159.1" cy="246.8" r="3.0"/>
<circle cx="1146.4" cy="244.1" r="3.0"/>
<circle cx="1150.4" cy="243.0" r="3.0"/>
<circle cx="1129.1" cy="248.8" r="3.0"/>
<circle cx="1134.7" cy="249.4" r="3.0"/>
<circle cx="1139.1" cy="248.1" r="3.0"/>
<circle cx="1123.7" cy="252.1" r="3.0"/>
<circle cx="1175.1" cy="246.8" r="3.0"/>
<circle cx="1175.8" cy="249.4" r="3.0"/>
<circle cx="1174.5" cy="252.8" r="3.0"/>
<circle cx="1206.3" cy="234.1" r="3.0"/>
<circle cx="1213.5" cy="249.0" r="3.0"/>
<circle cx="1188.2" cy="251.4" r="3.0"/>
<circle cx="1002.6" cy="255.4" r="3.0"/>
<circle cx="1033.6" cy="255.4" r="3.0"/>
<circle cx="1042.3" cy="255.4" r="3.0"/>
<circle cx="985.8" cy="269.3" r="3.0"/>
<circle cx="1007.8" cy="273.0" r="3.0"/>
<circle cx="1038.3" cy="260.6" r="3.0"/>
<circle cx="1047.2" cy="261.0" r="3.0"/>
<circle cx="1033.6" cy="275.7" r="3.0"/>
<circle cx="1046.7" cy="270.4" r="3.0"/>
<circle cx="1052.3" cy="267.7" r="3.0"/>
<circle cx="1052.9" cy="270.4" r="3.0"/>
<circle cx="1043.6" cy="280.4" r="3.0"/>
<circle cx="1046.9" cy="277.7" r="3.0"/>
<circle cx="1050.9" cy="276.4" r="3.0"/>
<circle cx="1051.6" cy="281.0" r="3.0"/>
<circle cx="1032.2" cy="284.1" r="3.0"/>
<circle cx="1013.6" cy="289.1" r="3.0"/>
<circle cx="1005.5" cy="295.1" r="3.0"/>
<circle cx="910.0" cy="287.1" r="3.0"/>
<circle cx="911.8" cy="289.1" r="3.0"/>
<circle cx="910.0" cy="291.1" r="3.0"/>
<circle cx="911.4" cy="302.4" r="3.0"/>
<circle cx="910.0" cy="304.7" r="3.0"/>
<circle cx="946.8" cy="294.4" r="3.0"/>
<circle cx="960.1" cy="312.4" r="3.0"/>
<circle cx="1032.2" cy="290.0" r="3.0"/>
<circle cx="1035.6" cy="289.1" r="3.0"/>
<circle cx="1039.6" cy="287.7" r="3.0"/>
<circle cx="1038.3" cy="293.1" r="3.0"/>
<circle cx="1026.9" cy="296.7" r="3.0"/>
<circle cx="1024.2" cy="301.1" r="3.0"/>
<circle cx="1023.6" cy="310.4" r="3.0"/>
<circle cx="1016.2" cy="313.5" r="3.0"/>
<circle cx="1029.6" cy="314.4" r="3.0"/>
<circle cx="1028.9" cy="317.8" r="3.0"/>
<circle cx="999.3" cy="324.4" r="3.0"/>
<circle cx="1008.2" cy="323.1" r="3.0"/>
<circle cx="1010.9" cy="321.8" r="3.0"/>
<circle cx="1006.2" cy="327.8" r="3.0"/>
<circle cx="1013.6" cy="325.8" r="3.0"/>
<circle cx="1018.9" cy="319.1" r="3.0"/>
<circle cx="1020.2" cy="323.1" r="3.0"/>
<circle cx="1024.2" cy="325.8" r="3.0"/>
<circle cx="1029.6" cy="324.4" r="3.0"/>
<circle cx="1033.6" cy="322.4" r="3.0"/>
<circle cx="1037.6" cy="319.8" r="3.0"/>
<circle cx="1039.6" cy="324.4" r="3.0"/>
<circle cx="1036.3" cy="327.8" r="3.0"/>
<circle cx="1041.6" cy="327.8" r="3.0"/>
<circle cx="1046.9" cy="329.1" r="3.0"/>
<circle cx="1038.9" cy="299.1" r="3.0"/>
<circle cx="1042.3" cy="301.1" r="3.0"/>
<circle cx="1036.3" cy="309.8" r="3.0"/>
<circle cx="1040.3" cy="311.1" r="3.0"/>
<circle cx="1042.9" cy="305.7" r="3.0"/>
<circle cx="1046.9" cy="303.7" r="3.0"/>
<circle cx="1045.6" cy="312.4" r="3.0"/>
<circle cx="1048.3" cy="316.4" r="3.0"/>
<circle cx="1050.9" cy="320.4" r="3.0"/>
<circle cx="1048.3" cy="323.1" r="3.0"/>
<circle cx="1052.3" cy="317.8" r="3.0"/>
<circle cx="1055.0" cy="312.4" r="3.0"/>
<circle cx="1053.6" cy="308.4" r="3.0"/>
<circle cx="1052.3" cy="304.4" r="3.0"/>
<circle cx="1053.6" cy="299.1" r="3.0"/>
<circle cx="1056.3" cy="295.1" r="3.0"/>
<circle cx="1059.0" cy="301.1" r="3.0"/>
<circle cx="1061.6" cy="296.4" r="3.0"/>
<circle cx="1064.3" cy="299.1" r="3.0"/>
<circle cx="1063.6" cy="308.4" r="3.0"/>
<circle cx="1061.6" cy="313.8" r="3.0"/>
<circle cx="1063.0" cy="317.8" r="3.0"/>
<circle cx="1059.6" cy="324.4" r="3.0"/>
<circle cx="1064.3" cy="327.8" r="3.0"/>
<circle cx="1057.6" cy="284.4" r="3.0"/>
<circle cx="1059.6" cy="288.4" r="3.0"/>
<circle cx="1062.3" cy="291.1" r="3.0"/>
<circle cx="1060.3" cy="279.0" r="3.0"/>
<circle cx="1064.3" cy="281.0" r="3.0"/>
<circle cx="1059.0" cy="263.0" r="3.0"/>
<circle cx="1061.6" cy="261.7" r="3.0"/>
<circle cx="1065.0" cy="265.7" r="3.0"/>
<circle cx="1066.3" cy="257.7" r="3.0"/>
<circle cx="1069.6" cy="259.0" r="3.0"/>
<circle cx="1072.3" cy="265.7" r="3.0"/>
<circle cx="1071.0" cy="271.7" r="3.0"/>
<circle cx="1070.3" cy="278.4" r="3.0"/>
<circle cx="1076.3" cy="260.3" r="3.0"/>
<circle cx="1079.0" cy="264.3" r="3.0"/>
<circle cx="1080.3" cy="267.7" r="3.0"/>
<circle cx="1082.3" cy="257.7" r="3.0"/>
<circle cx="1077.7" cy="279.0" r="3.0"/>
<circle cx="1080.3" cy="281.7" r="3.0"/>
<circle cx="1083.7" cy="284.4" r="3.0"/>
<circle cx="1080.3" cy="289.1" r="3.0"/>
<circle cx="1072.3" cy="287.7" r="3.0"/>
<circle cx="1073.0" cy="291.1" r="3.0"/>
<circle cx="1069.6" cy="295.1" r="3.0"/>
<circle cx="1072.3" cy="297.7" r="3.0"/>
<circle cx="1075.0" cy="301.1" r="3.0"/>
<circle cx="1079.7" cy="301.1" r="3.0"/>
<circle cx="1084.3" cy="308.4" r="3.0"/>
<circle cx="1081.7" cy="313.8" r="3.0"/>
<circle cx="1071.0" cy="317.8" r="3.0"/>
<circle cx="1073.6" cy="321.8" r="3.0"/>
<circle cx="1067.0" cy="322.4" r="3.0"/>
<circle cx="1076.3" cy="324.4" r="3.0"/>
<circle cx="1080.3" cy="327.1" r="3.0"/>
<circle cx="1089.0" cy="256.3" r="3.0"/>
<circle cx="1098.4" cy="257.0" r="3.0"/>
<circle cx="1104.4" cy="259.0" r="3.0"/>
<circle cx="1121.1" cy="260.3" r="3.0"/>
<circle cx="1125.1" cy="256.3" r="3.0"/>
<circle cx="1138.4" cy="257.0" r="3.0"/>
<circle cx="1139.8" cy="261.0" r="3.0"/>
<circle cx="1137.1" cy="263.0" r="3.0"/>
<circle cx="1145.1" cy="261.0" r="3.0"/>
<circle cx="1151.1" cy="262.3" r="3.0"/>
<circle cx="1159.1" cy="259.0" r="3.0"/>
<circle cx="1166.5" cy="257.7" r="3.0"/>
<circle cx="1183.8" cy="259.0" r="3.0"/>
<circle cx="1199.9" cy="259.7" r="3.0"/>
<circle cx="1215.9" cy="265.0" r="3.0"/>
<circle cx="1227.2" cy="269.0" r="3.0"/>
<circle cx="1247.3" cy="272.8" r="3.0"/>
<circle cx="1260.6" cy="268.1" r="3.0"/>
<circle cx="1093.0" cy="262.3" r="3.0"/>
<circle cx="1097.0" cy="264.3" r="3.0"/>
<circle cx="1089.0" cy="267.7" r="3.0"/>
<circle cx="1095.7" cy="267.7" r="3.0"/>
<circle cx="1108.4" cy="265.0" r="3.0"/>
<circle cx="1112.4" cy="262.3" r="3.0"/>
<circle cx="1115.7" cy="265.0" r="3.0"/>
<circle cx="1113.0" cy="268.4" r="3.0"/>
<circle cx="1119.7" cy="266.4" r="3.0"/>
<circle cx="1125.1" cy="267.7" r="3.0"/>
<circle cx="1117.1" cy="271.0" r="3.0"/>
<circle cx="1121.1" cy="272.4" r="3.0"/>
<circle cx="1111.0" cy="274.4" r="3.0"/>
<circle cx="1130.4" cy="272.1" r="3.0"/>
<circle cx="1133.1" cy="278.4" r="3.0"/>
<circle cx="1115.0" cy="279.7" r="3.0"/>
<circle cx="1098.4" cy="272.4" r="3.0"/>
<circle cx="1094.3" cy="275.7" r="3.0"/>
<circle cx="1090.3" cy="277.7" r="3.0"/>
<circle cx="1087.7" cy="281.0" r="3.0"/>
<circle cx="1093.0" cy="280.4" r="3.0"/>
<circle cx="1096.4" cy="281.0" r="3.0"/>
<circle cx="1143.8" cy="268.4" r="3.0"/>
<circle cx="1142.4" cy="272.4" r="3.0"/>
<circle cx="1141.1" cy="275.0" r="3.0"/>
<circle cx="1147.1" cy="275.7" r="3.0"/>
<circle cx="1152.4" cy="267.7" r="3.0"/>
<circle cx="1186.5" cy="268.8" r="3.0"/>
<circle cx="1185.2" cy="275.0" r="3.0"/>
<circle cx="1193.8" cy="275.7" r="3.0"/>
<circle cx="1189.2" cy="279.0" r="3.0"/>
<circle cx="1163.8" cy="280.4" r="3.0"/>
<circle cx="1169.1" cy="281.7" r="3.0"/>
<circle cx="1173.1" cy="279.7" r="3.0"/>
<circle cx="1178.5" cy="284.4" r="3.0"/>
<circle cx="1177.1" cy="289.7" r="3.0"/>
<circle cx="1152.4" cy="283.3" r="3.0"/>
<circle cx="1146.4" cy="283.7" r="3.0"/>
<circle cx="1148.4" cy="287.7" r="3.0"/>
<circle cx="1149.1" cy="290.4" r="3.0"/>
<circle cx="1209.9" cy="287.3" r="3.0"/>
<circle cx="1226.6" cy="295.3" r="3.0"/>
<circle cx="1243.0" cy="292.4" r="3.0"/>
<circle cx="1255.3" cy="290.0" r="3.0"/>
<circle cx="1195.2" cy="294.8" r="3.0"/>
<circle cx="1205.9" cy="297.5" r="3.0"/>
<circle cx="1187.2" cy="297.5" r="3.0"/>
<circle cx="1190.5" cy="299.1" r="3.0"/>
<circle cx="1189.2" cy="301.7" r="3.0"/>
<circle cx="1187.8" cy="304.4" r="3.0"/>
<circle cx="1267.3" cy="303.1" r="3.0"/>
<circle cx="1253.0" cy="306.4" r="3.0"/>
<circle cx="1258.9" cy="318.2" r="3.0"/>
<circle cx="1196.1" cy="311.4" r="3.0"/>
<circle cx="1204.8" cy="313.4" r="3.0"/>
<circle cx="1190.5" cy="318.4" r="3.0"/>
<circle cx="1179.6" cy="319.1" r="3.0"/>
<circle cx="1148.8" cy="311.1" r="3.0"/>
<circle cx="1148.8" cy="317.8" r="3.0"/>
<circle cx="1146.4" cy="324.4" r="3.0"/>
<circle cx="1130.4" cy="323.4" r="3.0"/>
<circle cx="1116.4" cy="286.4" r="3.0"/>
<circle cx="1109.0" cy="289.1" r="3.0"/>
<circle cx="1087.0" cy="289.1" r="3.0"/>
<circle cx="1090.3" cy="292.4" r="3.0"/>
<circle cx="1095.7" cy="291.7" r="3.0"/>
<circle cx="1101.0" cy="291.7" r="3.0"/>
<circle cx="1092.3" cy="295.1" r="3.0"/>
<circle cx="1088.3" cy="297.7" r="3.0"/>
<circle cx="1086.3" cy="301.1" r="3.0"/>
<circle cx="1089.0" cy="304.4" r="3.0"/>
<circle cx="1089.0" cy="311.1" r="3.0"/>
<circle cx="1087.0" cy="318.4" r="3.0"/>
<circle cx="1095.7" cy="305.7" r="3.0"/>
<circle cx="1093.0" cy="314.4" r="3.0"/>
<circle cx="1097.0" cy="316.4" r="3.0"/>
<circle cx="1099.7" cy="319.1" r="3.0"/>
<circle cx="1102.4" cy="313.8" r="3.0"/>
<circle cx="1105.0" cy="316.4" r="3.0"/>
<circle cx="1101.0" cy="323.1" r="3.0"/>
<circle cx="1109.0" cy="321.8" r="3.0"/>
<circle cx="1114.4" cy="320.4" r="3.0"/>
<circle cx="1115.7" cy="307.8" r="3.0"/>
<circle cx="1119.7" cy="309.8" r="3.0"/>
<circle cx="1127.7" cy="309.8" r="3.0"/>
<circle cx="1131.7" cy="309.1" r="3.0"/>
<circle cx="1126.4" cy="314.4" r="3.0"/>
<circle cx="1113.0" cy="292.4" r="3.0"/>
<circle cx="1118.4" cy="290.4" r="3.0"/>
<circle cx="1122.4" cy="291.1" r="3.0"/>
<circle cx="1131.7" cy="293.7" r="3.0"/>
<circle cx="1134.4" cy="292.4" r="3.0"/>
<circle cx="1131.7" cy="299.7" r="3.0"/>
<circle cx="1129.1" cy="297.7" r="3.0"/>
<circle cx="1122.4" cy="299.1" r="3.0"/>
<circle cx="1110.4" cy="297.7" r="3.0"/>
<circle cx="1106.4" cy="299.1" r="3.0"/>
<circle cx="1115.7" cy="296.4" r="3.0"/>
<circle cx="1141.1" cy="295.1" r="3.0"/>
<circle cx="1145.1" cy="297.7" r="3.0"/>
<circle cx="1151.8" cy="296.4" r="3.0"/>
<circle cx="1159.1" cy="293.1" r="3.0"/>
<circle cx="1161.8" cy="296.4" r="3.0"/>
<circle cx="1160.5" cy="299.7" r="3.0"/>
<circle cx="1163.8" cy="264.3" r="3.0"/>
<circle cx="1146.4" cy="279.0" r="3.0"/>
<circle cx="1086.3" cy="325.8" r="3.0"/>
<circle cx="1111.7" cy="329.1" r="3.0"/>
<circle cx="1127.7" cy="329.1" r="3.0"/>
<circle cx="910.7" cy="346.4" r="3.0"/>
<circle cx="945.0" cy="346.4" r="3.0"/>
<circle cx="968.8" cy="347.4" r="3.0"/>
<circle cx="981.5" cy="347.4" r="3.0"/>
<circle cx="984.2" cy="348.0" r="3.0"/>
<circle cx="988.2" cy="340.0" r="3.0"/>
<circle cx="997.5" cy="335.1" r="3.0"/>
<circle cx="1000.2" cy="340.0" r="3.0"/>
<circle cx="1006.9" cy="334.7" r="3.0"/>
<circle cx="1010.2" cy="336.0" r="3.0"/>
<circle cx="1013.6" cy="336.0" r="3.0"/>
<circle cx="1011.5" cy="340.7" r="3.0"/>
<circle cx="1018.9" cy="343.4" r="3.0"/>
<circle cx="1018.9" cy="331.3" r="3.0"/>
<circle cx="912.7" cy="366.1" r="3.0"/>
<circle cx="912.1" cy="374.5" r="3.0"/>
<circle cx="926.1" cy="376.1" r="3.0"/>
<circle cx="945.4" cy="364.7" r="3.0"/>
<circle cx="948.8" cy="369.4" r="3.0"/>
<circle cx="955.5" cy="366.7" r="3.0"/>
<circle cx="954.1" cy="372.7" r="3.0"/>
<circle cx="961.5" cy="375.4" r="3.0"/>
<circle cx="933.4" cy="382.1" r="3.0"/>
<circle cx="942.8" cy="384.8" r="3.0"/>
<circle cx="936.1" cy="391.2" r="3.0"/>
<circle cx="948.1" cy="389.4" r="3.0"/>
<circle cx="956.1" cy="386.8" r="3.0"/>
<circle cx="956.8" cy="396.1" r="3.0"/>
<circle cx="914.7" cy="392.5" r="3.0"/>
<circle cx="912.7" cy="398.1" r="3.0"/>
<circle cx="921.4" cy="398.1" r="3.0"/>
<circle cx="906.7" cy="404.8" r="3.0"/>
<circle cx="972.1" cy="362.1" r="3.0"/>
<circle cx="975.5" cy="362.1" r="3.0"/>
<circle cx="968.1" cy="369.4" r="3.0"/>
<circle cx="972.1" cy="371.4" r="3.0"/>
<circle cx="976.2" cy="370.7" r="3.0"/>
<circle cx="981.5" cy="371.4" r="3.0"/>
<circle cx="989.5" cy="362.1" r="3.0"/>
<circle cx="993.5" cy="350.0" r="3.0"/>
<circle cx="990.8" cy="351.4" r="3.0"/>
<circle cx="996.2" cy="355.4" r="3.0"/>
<circle cx="999.5" cy="354.0" r="3.0"/>
<circle cx="1002.9" cy="354.7" r="3.0"/>
<circle cx="1006.9" cy="352.0" r="3.0"/>
<circle cx="1010.9" cy="352.7" r="3.0"/>
<circle cx="1065.6" cy="335.3" r="3.0"/>
<circle cx="1077.7" cy="342.0" r="3.0"/>
<circle cx="1080.3" cy="332.7" r="3.0"/>
<circle cx="1083.0" cy="330.7" r="3.0"/>
<circle cx="1075.0" cy="343.4" r="3.0"/>
<circle cx="1080.3" cy="350.0" r="3.0"/>
<circle cx="1077.7" cy="358.0" r="3.0"/>
<circle cx="1081.7" cy="359.4" r="3.0"/>
<circle cx="1084.3" cy="354.0" r="3.0"/>
<circle cx="1077.7" cy="370.1" r="3.0"/>
<circle cx="1076.3" cy="392.8" r="3.0"/>
<circle cx="1077.7" cy="396.8" r="3.0"/>
<circle cx="1059.6" cy="388.1" r="3.0"/>
<circle cx="1067.0" cy="383.4" r="3.0"/>
<circle cx="1069.6" cy="384.8" r="3.0"/>
<circle cx="1067.6" cy="368.7" r="3.0"/>
<circle cx="1063.0" cy="362.1" r="3.0"/>
<circle cx="1064.3" cy="378.7" r="3.0"/>
<circle cx="1052.3" cy="384.8" r="3.0"/>
<circle cx="1056.3" cy="375.4" r="3.0"/>
<circle cx="1057.6" cy="350.0" r="3.0"/>
<circle cx="1061.6" cy="347.4" r="3.0"/>
<circle cx="1067.0" cy="350.0" r="3.0"/>
<circle cx="1068.3" cy="354.0" r="3.0"/>
<circle cx="1087.7" cy="332.0" r="3.0"/>
<circle cx="1091.0" cy="337.3" r="3.0"/>
<circle cx="1088.3" cy="336.7" r="3.0"/>
<circle cx="1098.1" cy="340.3" r="3.0"/>
<circle cx="1086.3" cy="344.0" r="3.0"/>
<circle cx="1086.3" cy="347.4" r="3.0"/>
<circle cx="1091.7" cy="346.7" r="3.0"/>
<circle cx="1092.3" cy="350.7" r="3.0"/>
<circle cx="1085.7" cy="357.4" r="3.0"/>
<circle cx="1089.7" cy="358.7" r="3.0"/>
<circle cx="1091.7" cy="362.1" r="3.0"/>
<circle cx="1085.7" cy="366.7" r="3.0"/>
<circle cx="1097.0" cy="371.1" r="3.0"/>
<circle cx="1115.7" cy="330.7" r="3.0"/>
<circle cx="1150.4" cy="342.3" r="3.0"/>
<circle cx="1176.5" cy="334.7" r="3.0"/>
<circle cx="1187.2" cy="348.0" r="3.0"/>
<circle cx="1225.9" cy="334.7" r="3.0"/>
<circle cx="1229.2" cy="331.6" r="3.0"/>
<circle cx="893.4" cy="416.7" r="3.0"/>
<circle cx="894.7" cy="440.1" r="3.0"/>
<circle cx="896.0" cy="442.7" r="3.0"/>
<circle cx="900.0" cy="428.3" r="3.0"/>
<circle cx="906.7" cy="426.0" r="3.0"/>
<circle cx="910.7" cy="421.4" r="3.0"/>
<circle cx="917.4" cy="418.7" r="3.0"/>
<circle cx="921.4" cy="420.0" r="3.0"/>
<circle cx="924.1" cy="410.0" r="3.0"/>
<circle cx="929.4" cy="410.0" r="3.0"/>
<circle cx="933.4" cy="409.3" r="3.0"/>
<circle cx="937.4" cy="409.3" r="3.0"/>
<circle cx="913.4" cy="432.1" r="3.0"/>
<circle cx="906.7" cy="433.4" r="3.0"/>
<circle cx="909.4" cy="437.4" r="3.0"/>
<circle cx="914.7" cy="436.1" r="3.0"/>
<circle cx="918.7" cy="438.7" r="3.0"/>
<circle cx="920.1" cy="429.4" r="3.0"/>
<circle cx="924.1" cy="433.4" r="3.0"/>
<circle cx="930.7" cy="430.7" r="3.0"/>
<circle cx="930.7" cy="422.0" r="3.0"/>
<circle cx="936.1" cy="438.7" r="3.0"/>
<circle cx="938.8" cy="433.4" r="3.0"/>
<circle cx="941.4" cy="430.7" r="3.0"/>
<circle cx="942.8" cy="425.4" r="3.0"/>
<circle cx="937.4" cy="419.4" r="3.0"/>
<circle cx="940.1" cy="414.7" r="3.0"/>
<circle cx="942.8" cy="411.4" r="3.0"/>
<circle cx="946.8" cy="413.4" r="3.0"/>
<circle cx="949.4" cy="417.4" r="3.0"/>
<circle cx="952.1" cy="422.7" r="3.0"/>
<circle cx="950.1" cy="430.0" r="3.0"/>
<circle cx="950.1" cy="437.4" r="3.0"/>
<circle cx="954.8" cy="426.7" r="3.0"/>
<circle cx="957.5" cy="420.0" r="3.0"/>
<circle cx="960.1" cy="417.4" r="3.0"/>
<circle cx="961.5" cy="423.4" r="3.0"/>
<circle cx="960.1" cy="437.4" r="3.0"/>
<circle cx="965.5" cy="434.7" r="3.0"/>
<circle cx="968.1" cy="430.7" r="3.0"/>
<circle cx="962.8" cy="429.4" r="3.0"/>
<circle cx="965.5" cy="412.0" r="3.0"/>
<circle cx="968.1" cy="409.3" r="3.0"/>
<circle cx="972.1" cy="424.0" r="3.0"/>
<circle cx="974.8" cy="428.0" r="3.0"/>
<circle cx="976.2" cy="421.4" r="3.0"/>
<circle cx="977.5" cy="437.4" r="3.0"/>
<circle cx="981.5" cy="429.4" r="3.0"/>
<circle cx="988.8" cy="430.7" r="3.0"/>
<circle cx="978.8" cy="417.4" r="3.0"/>
<circle cx="981.5" cy="414.7" r="3.0"/>
<circle cx="986.8" cy="413.4" r="3.0"/>
<circle cx="989.5" cy="408.0" r="3.0"/>
<circle cx="992.2" cy="420.0" r="3.0"/>
<circle cx="996.2" cy="421.4" r="3.0"/>
<circle cx="997.5" cy="425.4" r="3.0"/>
<circle cx="997.5" cy="434.7" r="3.0"/>
<circle cx="996.2" cy="440.1" r="3.0"/>
<circle cx="1000.2" cy="437.4" r="3.0"/>
<circle cx="1002.9" cy="428.0" r="3.0"/>
<circle cx="1006.9" cy="429.4" r="3.0"/>
<circle cx="1009.5" cy="422.7" r="3.0"/>
<circle cx="1008.2" cy="438.7" r="3.0"/>
<circle cx="1012.2" cy="434.7" r="3.0"/>
<circle cx="1013.6" cy="429.4" r="3.0"/>
<circle cx="1014.9" cy="424.0" r="3.0"/>
<circle cx="1020.2" cy="420.0" r="3.0"/>
<circle cx="1024.2" cy="413.4" r="3.0"/>
<circle cx="1026.9" cy="420.0" r="3.0"/>
<circle cx="1017.6" cy="414.7" r="3.0"/>
<circle cx="1010.9" cy="414.7" r="3.0"/>
<circle cx="1005.5" cy="413.4" r="3.0"/>
<circle cx="1000.2" cy="410.7" r="3.0"/>
<circle cx="994.9" cy="409.3" r="3.0"/>
<circle cx="1030.9" cy="426.7" r="3.0"/>
<circle cx="1032.2" cy="436.1" r="3.0"/>
<circle cx="1036.3" cy="428.0" r="3.0"/>
<circle cx="1040.3" cy="424.0" r="3.0"/>
<circle cx="1038.9" cy="429.4" r="3.0"/>
<circle cx="1045.6" cy="426.7" r="3.0"/>
<circle cx="1048.3" cy="430.0" r="3.0"/>
<circle cx="1043.6" cy="418.0" r="3.0"/>
<circle cx="1053.6" cy="411.4" r="3.0"/>
<circle cx="1052.9" cy="422.0" r="3.0"/>
<circle cx="1049.6" cy="408.0" r="3.0"/>
<circle cx="1042.9" cy="405.3" r="3.0"/>
<circle cx="1033.6" cy="406.7" r="3.0"/>
<circle cx="1028.2" cy="405.3" r="3.0"/>
<circle cx="1020.2" cy="406.7" r="3.0"/>
<circle cx="1013.6" cy="408.0" r="3.0"/>
<circle cx="1006.9" cy="405.3" r="3.0"/>
<circle cx="1000.2" cy="406.7" r="3.0"/>
<circle cx="984.2" cy="408.0" r="3.0"/>
<circle cx="978.8" cy="409.3" r="3.0"/>
<circle cx="973.5" cy="408.0" r="3.0"/>
<circle cx="969.5" cy="406.7" r="3.0"/>
<circle cx="960.1" cy="408.0" r="3.0"/>
<circle cx="954.8" cy="406.7" r="3.0"/>
<circle cx="1074.3" cy="416.0" r="3.0"/>
<circle cx="1080.3" cy="419.4" r="3.0"/>
<circle cx="1101.0" cy="405.3" r="3.0"/>
<circle cx="1114.4" cy="429.1" r="3.0"/>
<circle cx="1499.9" cy="348.1" r="3.0"/>
<circle cx="959.9" cy="417.7" r="3.0"/>
<circle cx="975.5" cy="412.7" r="3.0"/>
<circle cx="961.8" cy="419.1" r="3.0"/>
<circle cx="951.1" cy="415.1" r="3.0"/>
<circle cx="965.8" cy="430.0" r="3.0"/>
<circle cx="948.1" cy="404.1" r="3.0"/>
<circle cx="948.0" cy="430.9" r="3.0"/>
<circle cx="967.9" cy="390.2" r="3.0"/>
<circle cx="977.4" cy="439.1" r="3.0"/>
<circle cx="966.6" cy="420.6" r="3.0"/>
<circle cx="962.4" cy="391.2" r="3.0"/>
<circle cx="951.3" cy="400.8" r="3.0"/>
<circle cx="946.0" cy="412.6" r="3.0"/>
<circle cx="959.5" cy="432.6" r="3.0"/>
<circle cx="962.1" cy="421.9" r="3.0"/>
<circle cx="961.5" cy="423.1" r="3.0"/>
<circle cx="960.1" cy="402.7" r="3.0"/>
<circle cx="972.7" cy="425.5" r="3.0"/>
<circle cx="955.4" cy="400.2" r="3.0"/>
<circle cx="954.5" cy="391.7" r="3.0"/>
<circle cx="970.3" cy="409.2" r="3.0"/>
<circle cx="972.9" cy="408.5" r="3.0"/>
<circle cx="976.6" cy="432.9" r="3.0"/>
<circle cx="945.0" cy="399.1" r="3.0"/>
<circle cx="975.0" cy="412.9" r="3.0"/>
<circle cx="947.4" cy="421.4" r="3.0"/>
<circle cx="970.7" cy="402.3" r="3.0"/>
<circle cx="947.9" cy="405.6" r="3.0"/>
<circle cx="976.8" cy="428.2" r="3.0"/>
<circle cx="948.9" cy="401.1" r="3.0"/>
<circle cx="971.3" cy="397.4" r="3.0"/>
<circle cx="963.5" cy="411.7" r="3.0"/>
<circle cx="951.3" cy="426.8" r="3.0"/>
<circle cx="949.3" cy="422.1" r="3.0"/>
<circle cx="948.8" cy="410.3" r="3.0"/>
<circle cx="952.0" cy="402.3" r="3.0"/>
<circle cx="977.0" cy="430.6" r="3.0"/>
<circle cx="955.0" cy="434.9" r="3.0"/>
<circle cx="952.0" cy="408.9" r="3.0"/>
<circle cx="973.2" cy="422.0" r="3.0"/>
<circle cx="948.3" cy="440.4" r="3.0"/>
<circle cx="952.0" cy="401.7" r="3.0"/>
<circle cx="970.5" cy="405.4" r="3.0"/>
<circle cx="954.8" cy="391.9" r="3.0"/>
<circle cx="948.0" cy="418.9" r="3.0"/>
<circle cx="953.0" cy="419.9" r="3.0"/>
<circle cx="957.3" cy="412.0" r="3.0"/>
<circle cx="1060.0" cy="358.1" r="3.0"/>
<circle cx="1040.7" cy="380.3" r="3.0"/>
<circle cx="1021.1" cy="338.9" r="3.0"/>
<circle cx="1057.4" cy="377.4" r="3.0"/>
<circle cx="1024.5" cy="341.0" r="3.0"/>
<circle cx="1049.0" cy="384.5" r="3.0"/>
<circle cx="1056.1" cy="365.0" r="3.0"/>
<circle cx="1033.1" cy="336.0" r="3.0"/>
<circle cx="1023.9" cy="370.9" r="3.0"/>
<circle cx="1024.8" cy="377.8" r="3.0"/>
<circle cx="1041.8" cy="347.0" r="3.0"/>
<circle cx="1020.8" cy="371.8" r="3.0"/>
<circle cx="1040.0" cy="379.4" r="3.0"/>
<circle cx="1042.7" cy="346.3" r="3.0"/>
<circle cx="1057.9" cy="341.8" r="3.0"/>
<circle cx="1034.3" cy="333.5" r="3.0"/>
<circle cx="1020.8" cy="351.4" r="3.0"/>
<circle cx="1040.6" cy="337.6" r="3.0"/>
<circle cx="1030.1" cy="381.7" r="3.0"/>
<circle cx="1046.6" cy="363.9" r="3.0"/>
<circle cx="1047.0" cy="385.8" r="3.0"/>
<circle cx="1013.1" cy="366.9" r="3.0"/>
<circle cx="1036.1" cy="372.4" r="3.0"/>
<circle cx="1015.8" cy="361.7" r="3.0"/>
<circle cx="1048.9" cy="382.2" r="3.0"/>
<circle cx="1048.9" cy="370.8" r="3.0"/>
<circle cx="1051.7" cy="383.1" r="3.0"/>
<circle cx="1029.6" cy="369.7" r="3.0"/>
<circle cx="1057.0" cy="380.5" r="3.0"/>
<circle cx="1032.9" cy="375.9" r="3.0"/>
<circle cx="1055.2" cy="363.2" r="3.0"/>
<circle cx="1043.2" cy="352.2" r="3.0"/>
<circle cx="1041.1" cy="365.3" r="3.0"/>
<circle cx="1016.0" cy="367.1" r="3.0"/>
<circle cx="1048.4" cy="352.5" r="3.0"/>
<circle cx="1048.8" cy="363.7" r="3.0"/>
<circle cx="1034.0" cy="378.6" r="3.0"/>
<circle cx="1016.2" cy="373.5" r="3.0"/>
<circle cx="1013.5" cy="364.9" r="3.0"/>
<circle cx="1036.0" cy="343.4" r="3.0"/>
<circle cx="1046.9" cy="358.8" r="3.0"/>
<circle cx="1042.7" cy="383.4" r="3.0"/>
<circle cx="1027.1" cy="369.3" r="3.0"/>
<circle cx="1022.1" cy="339.8" r="3.0"/>
<circle cx="1057.3" cy="368.3" r="3.0"/>
<circle cx="1034.1" cy="381.7" r="3.0"/>
<circle cx="1028.3" cy="368.6" r="3.0"/>
<circle cx="1021.9" cy="355.0" r="3.0"/>
<circle cx="1052.3" cy="383.0" r="3.0"/>
<circle cx="1056.0" cy="352.3" r="3.0"/>
<circle cx="1041.2" cy="348.4" r="3.0"/>
<circle cx="1018.8" cy="358.8" r="3.0"/>
<circle cx="1053.9" cy="379.2" r="3.0"/>
<circle cx="1047.6" cy="385.1" r="3.0"/>
<circle cx="1025.8" cy="339.8" r="3.0"/>
<circle cx="1034.5" cy="346.0" r="3.0"/>
<circle cx="1022.7" cy="354.0" r="3.0"/>
<circle cx="996.1" cy="408.0" r="3.0"/>
<circle cx="948.4" cy="431.1" r="3.0"/>
<circle cx="1050.8" cy="405.2" r="3.0"/>
<circle cx="1034.1" cy="377.8" r="3.0"/>
<circle cx="1008.8" cy="413.1" r="3.0"/>
<circle cx="947.5" cy="427.9" r="3.0"/>
<circle cx="1027.4" cy="390.9" r="3.0"/>
<circle cx="996.6" cy="404.8" r="3.0"/>
<circle cx="996.8" cy="418.8" r="3.0"/>
<circle cx="1005.1" cy="388.3" r="3.0"/>
<circle cx="973.0" cy="386.9" r="3.0"/>
<circle cx="1009.7" cy="387.0" r="3.0"/>
<circle cx="941.8" cy="398.1" r="3.0"/>
<circle cx="1007.1" cy="409.8" r="3.0"/>
<circle cx="994.4" cy="425.5" r="3.0"/>
<circle cx="960.4" cy="427.9" r="3.0"/>
<circle cx="1039.2" cy="380.8" r="3.0"/>
<circle cx="1043.2" cy="423.3" r="3.0"/>
<circle cx="920.0" cy="405.3" r="3.0"/>
<circle cx="996.1" cy="435.8" r="3.0"/>
<circle cx="957.9" cy="413.0" r="3.0"/>
<circle cx="1035.1" cy="428.2" r="3.0"/>
<circle cx="1045.0" cy="406.0" r="3.0"/>
<circle cx="1000.0" cy="388.7" r="3.0"/>
<circle cx="1010.9" cy="429.7" r="3.0"/>
<circle cx="998.6" cy="422.9" r="3.0"/>
<circle cx="932.8" cy="435.1" r="3.0"/>
<circle cx="982.5" cy="427.8" r="3.0"/>
<circle cx="949.2" cy="435.8" r="3.0"/>
<circle cx="1031.4" cy="398.3" r="3.0"/>
<circle cx="912.7" cy="404.5" r="3.0"/>
<circle cx="984.5" cy="426.3" r="3.0"/>
<circle cx="1024.3" cy="379.3" r="3.0"/>
<circle cx="1022.9" cy="386.5" r="3.0"/>
<circle cx="951.5" cy="427.6" r="3.0"/>
<circle cx="979.3" cy="423.3" r="3.0"/>
<circle cx="1029.0" cy="421.1" r="3.0"/>
<circle cx="1045.3" cy="407.9" r="3.0"/>
<circle cx="1045.8" cy="380.7" r="3.0"/>
<circle cx="934.0" cy="410.2" r="3.0"/>
<circle cx="944.6" cy="423.7" r="3.0"/>
<circle cx="998.1" cy="409.9" r="3.0"/>
<circle cx="1029.6" cy="412.4" r="3.0"/>
<circle cx="947.9" cy="400.5" r="3.0"/>
<circle cx="1029.8" cy="435.2" r="3.0"/>
<circle cx="932.0" cy="431.8" r="3.0"/>
<circle cx="1048.8" cy="410.0" r="3.0"/>
<circle cx="988.0" cy="388.4" r="3.0"/>
<circle cx="982.3" cy="408.6" r="3.0"/>
<circle cx="993.0" cy="376.9" r="3.0"/>
<circle cx="1048.9" cy="409.5" r="3.0"/>
<circle cx="961.5" cy="428.5" r="3.0"/>
<circle cx="986.5" cy="407.8" r="3.0"/>
<circle cx="1006.1" cy="379.4" r="3.0"/>
<circle cx="982.7" cy="402.6" r="3.0"/>
<circle cx="941.4" cy="406.6" r="3.0"/>
<circle cx="919.5" cy="404.0" r="3.0"/>
<circle cx="1025.3" cy="435.2" r="3.0"/>
<circle cx="973.2" cy="396.2" r="3.0"/>
<circle cx="929.4" cy="416.3" r="3.0"/>
<circle cx="1042.1" cy="383.6" r="3.0"/>
<circle cx="1019.7" cy="376.5" r="3.0"/>
<circle cx="1005.5" cy="396.5" r="3.0"/>
<circle cx="954.6" cy="416.4" r="3.0"/>
<circle cx="916.1" cy="423.8" r="3.0"/>
<circle cx="918.9" cy="409.1" r="3.0"/>
<circle cx="981.5" cy="404.2" r="3.0"/>
<circle cx="957.7" cy="402.6" r="3.0"/>
<circle cx="981.3" cy="385.7" r="3.0"/>
<circle cx="931.4" cy="417.2" r="3.0"/>
<circle cx="998.1" cy="410.4" r="3.0"/>
<circle cx="1030.8" cy="415.9" r="3.0"/>
<circle cx="1031.6" cy="390.5" r="3.0"/>
<circle cx="1013.8" cy="429.1" r="3.0"/>
<circle cx="1038.7" cy="396.1" r="3.0"/>
<circle cx="948.4" cy="436.6" r="3.0"/>
<circle cx="1036.3" cy="383.9" r="3.0"/>
<circle cx="936.8" cy="423.5" r="3.0"/>
<circle cx="1027.8" cy="403.2" r="3.0"/>
<circle cx="1021.3" cy="383.4" r="3.0"/>
<circle cx="961.9" cy="420.8" r="3.0"/>
<circle cx="1004.8" cy="435.9" r="3.0"/>
<circle cx="1048.7" cy="382.7" r="3.0"/>
<circle cx="977.7" cy="425.6" r="3.0"/>
<circle cx="977.2" cy="420.8" r="3.0"/>
<circle cx="984.7" cy="409.4" r="3.0"/>
<circle cx="987.4" cy="384.8" r="3.0"/>
<circle cx="1042.4" cy="381.4" r="3.0"/>
<circle cx="909.5" cy="438.6" r="3.0"/>
<circle cx="971.0" cy="426.1" r="3.0"/>
<circle cx="950.2" cy="406.2" r="3.0"/>
<circle cx="979.1" cy="403.7" r="3.0"/>
<circle cx="992.3" cy="375.9" r="3.0"/>
<circle cx="1007.7" cy="431.4" r="3.0"/>
<circle cx="927.8" cy="405.3" r="3.0"/>
<circle cx="1013.6" cy="402.1" r="3.0"/>
<circle cx="1037.2" cy="428.6" r="3.0"/>
<circle cx="1008.2" cy="432.5" r="3.0"/>
<circle cx="996.7" cy="402.0" r="3.0"/>
<circle cx="992.1" cy="408.7" r="3.0"/>
<circle cx="1050.9" cy="428.8" r="3.0"/>
<circle cx="939.7" cy="435.9" r="3.0"/>
<circle cx="1014.3" cy="427.0" r="3.0"/>
<circle cx="1025.1" cy="402.1" r="3.0"/>
<circle cx="1037.7" cy="433.8" r="3.0"/>
<circle cx="1006.7" cy="426.3" r="3.0"/>
<circle cx="1017.5" cy="402.1" r="3.0"/>
<circle cx="1011.0" cy="379.7" r="3.0"/>
<circle cx="952.5" cy="406.3" r="3.0"/>
<circle cx="998.1" cy="416.7" r="3.0"/>
<circle cx="935.7" cy="438.1" r="3.0"/>
<circle cx="1002.3" cy="397.6" r="3.0"/>
<circle cx="1001.3" cy="413.0" r="3.0"/>
<circle cx="981.9" cy="401.0" r="3.0"/>
<circle cx="1007.7" cy="425.9" r="3.0"/>
<circle cx="994.5" cy="424.4" r="3.0"/>
<circle cx="939.4" cy="401.8" r="3.0"/>
<circle cx="938.5" cy="435.5" r="3.0"/>
<circle cx="984.5" cy="408.9" r="3.0"/>
<circle cx="1048.6" cy="412.9" r="3.0"/>
<circle cx="1024.3" cy="380.1" r="3.0"/>
<circle cx="991.8" cy="425.7" r="3.0"/>
<circle cx="906.9" cy="437.1" r="3.0"/>
<circle cx="924.6" cy="406.5" r="3.0"/>
<circle cx="926.0" cy="408.1" r="3.0"/>
<circle cx="993.9" cy="378.9" r="3.0"/>
<circle cx="1045.2" cy="403.1" r="3.0"/>
<circle cx="980.9" cy="414.9" r="3.0"/>
<circle cx="956.2" cy="394.1" r="3.0"/>
<circle cx="1000.6" cy="412.5" r="3.0"/>
<circle cx="943.5" cy="422.9" r="3.0"/>
<circle cx="924.1" cy="425.4" r="3.0"/>
<circle cx="959.9" cy="435.0" r="3.0"/>
<circle cx="1014.9" cy="378.4" r="3.0"/>
<circle cx="911.3" cy="435.5" r="3.0"/>
<circle cx="966.0" cy="406.9" r="3.0"/>
<circle cx="1049.5" cy="391.3" r="3.0"/>
<circle cx="980.4" cy="437.6" r="3.0"/>
<circle cx="1011.0" cy="406.3" r="3.0"/>
<circle cx="1050.3" cy="429.6" r="3.0"/>
<circle cx="992.7" cy="382.7" r="3.0"/>
<circle cx="995.9" cy="405.4" r="3.0"/>
<circle cx="981.1" cy="383.3" r="3.0"/>
<circle cx="968.0" cy="419.6" r="3.0"/>
<circle cx="970.0" cy="392.5" r="3.0"/>
<circle cx="989.4" cy="403.0" r="3.0"/>
<circle cx="1019.5" cy="410.5" r="3.0"/>
<circle cx="1012.8" cy="390.9" r="3.0"/>
<circle cx="917.5" cy="434.6" r="3.0"/>
<circle cx="1020.5" cy="416.7" r="3.0"/>
<circle cx="1005.2" cy="412.7" r="3.0"/>
<circle cx="990.9" cy="417.3" r="3.0"/>
<circle cx="1015.7" cy="387.7" r="3.0"/>
<circle cx="938.2" cy="440.4" r="3.0"/>
<circle cx="1040.7" cy="433.7" r="3.0"/>
<circle cx="941.6" cy="403.4" r="3.0"/>
<circle cx="995.7" cy="381.8" r="3.0"/>
<circle cx="983.2" cy="379.8" r="3.0"/>
<circle cx="1020.2" cy="378.3" r="3.0"/>
<circle cx="1040.4" cy="393.3" r="3.0"/>
<circle cx="1047.1" cy="377.8" r="3.0"/>
<circle cx="1042.9" cy="348.1" r="3.0"/>
<circle cx="1047.2" cy="359.4" r="3.0"/>
<circle cx="1030.9" cy="404.2" r="3.0"/>
<circle cx="1040.5" cy="399.3" r="3.0"/>
<circle cx="972.9" cy="396.0" r="3.0"/>
<circle cx="1021.6" cy="367.8" r="3.0"/>
<circle cx="1034.2" cy="354.3" r="3.0"/>
<circle cx="1043.6" cy="338.2" r="3.0"/>
<circle cx="985.0" cy="380.6" r="3.0"/>
<circle cx="1038.3" cy="382.9" r="3.0"/>
<circle cx="1000.1" cy="385.2" r="3.0"/>
<circle cx="1036.7" cy="373.9" r="3.0"/>
<circle cx="1058.0" cy="364.4" r="3.0"/>
<circle cx="1046.5" cy="354.7" r="3.0"/>
<circle cx="1045.9" cy="371.8" r="3.0"/>
<circle cx="1050.0" cy="373.4" r="3.0"/>
<circle cx="981.2" cy="387.6" r="3.0"/>
<circle cx="1054.6" cy="353.0" r="3.0"/>
<circle cx="1019.5" cy="373.7" r="3.0"/>
<circle cx="1046.6" cy="337.3" r="3.0"/>
<circle cx="1019.8" cy="389.7" r="3.0"/>
<circle cx="1039.6" cy="397.7" r="3.0"/>
<circle cx="977.8" cy="386.6" r="3.0"/>
<circle cx="1030.4" cy="350.4" r="3.0"/>
<circle cx="985.8" cy="388.0" r="3.0"/>
<circle cx="1017.1" cy="388.0" r="3.0"/>
<circle cx="1014.2" cy="371.5" r="3.0"/>
<circle cx="1037.9" cy="383.9" r="3.0"/>
<circle cx="1058.1" cy="362.4" r="3.0"/>
<circle cx="1048.9" cy="380.9" r="3.0"/>
<circle cx="1017.4" cy="384.0" r="3.0"/>
<circle cx="1046.4" cy="363.2" r="3.0"/>
<circle cx="1040.0" cy="404.4" r="3.0"/>
<circle cx="993.2" cy="402.8" r="3.0"/>
<circle cx="1043.7" cy="345.7" r="3.0"/>
<circle cx="1023.7" cy="398.4" r="3.0"/>
<circle cx="987.3" cy="384.6" r="3.0"/>
<circle cx="1024.8" cy="348.9" r="3.0"/>
<circle cx="980.8" cy="387.5" r="3.0"/>
<circle cx="1047.9" cy="367.4" r="3.0"/>
<circle cx="989.9" cy="396.9" r="3.0"/>
<circle cx="1058.1" cy="357.4" r="3.0"/>
<circle cx="1019.8" cy="401.9" r="3.0"/>
<circle cx="1046.3" cy="360.5" r="3.0"/>
<circle cx="1017.8" cy="370.0" r="3.0"/>
<circle cx="991.4" cy="404.3" r="3.0"/>
<circle cx="1031.3" cy="349.9" r="3.0"/>
<circle cx="1001.5" cy="390.3" r="3.0"/>
<circle cx="1037.1" cy="376.5" r="3.0"/>
<circle cx="1053.4" cy="370.0" r="3.0"/>
<circle cx="1029.2" cy="404.5" r="3.0"/>
<circle cx="978.5" cy="388.4" r="3.0"/>
<circle cx="1037.5" cy="339.7" r="3.0"/>
<circle cx="1052.1" cy="354.6" r="3.0"/>
<circle cx="1045.0" cy="362.8" r="3.0"/>
<circle cx="1048.9" cy="347.8" r="3.0"/>
<circle cx="1019.4" cy="370.7" r="3.0"/>
<circle cx="979.2" cy="392.9" r="3.0"/>
<circle cx="1011.5" cy="384.4" r="3.0"/>
<circle cx="1000.3" cy="382.4" r="3.0"/>
<circle cx="1010.9" cy="402.6" r="3.0"/>
<circle cx="1049.3" cy="380.0" r="3.0"/>
<circle cx="1036.8" cy="349.9" r="3.0"/>
<circle cx="1021.6" cy="365.8" r="3.0"/>
<circle cx="1046.1" cy="347.6" r="3.0"/>
<circle cx="1027.0" cy="353.7" r="3.0"/>
<circle cx="1002.0" cy="371.7" r="3.0"/>
<circle cx="1003.7" cy="380.9" r="3.0"/>
<circle cx="1039.0" cy="356.5" r="3.0"/>
<circle cx="1038.2" cy="356.7" r="3.0"/>
<circle cx="1049.0" cy="339.4" r="3.0"/>
<circle cx="1033.4" cy="383.9" r="3.0"/>
<circle cx="1050.0" cy="375.6" r="3.0"/>
<circle cx="1058.7" cy="363.6" r="3.0"/>
<circle cx="1016.1" cy="379.5" r="3.0"/>
<circle cx="1042.7" cy="392.1" r="3.0"/>
<circle cx="1004.6" cy="383.3" r="3.0"/>
<circle cx="1031.6" cy="376.7" r="3.0"/>
<circle cx="998.5" cy="379.7" r="3.0"/>
<circle cx="1015.9" cy="389.7" r="3.0"/>
<circle cx="1048.8" cy="376.9" r="3.0"/>
<circle cx="979.3" cy="388.1" r="3.0"/>
<circle cx="977.6" cy="384.3" r="3.0"/>
<circle cx="1037.3" cy="393.1" r="3.0"/>
<circle cx="983.3" cy="401.0" r="3.0"/>
<circle cx="1028.1" cy="347.0" r="3.0"/>
<circle cx="1022.9" cy="383.1" r="3.0"/>
<circle cx="997.1" cy="399.9" r="3.0"/>
<circle cx="975.7" cy="403.1" r="3.0"/>
<circle cx="976.9" cy="398.1" r="3.0"/>
<circle cx="1019.4" cy="373.2" r="3.0"/>
<circle cx="1021.2" cy="351.8" r="3.0"/>
<circle cx="1048.0" cy="376.2" r="3.0"/>
<circle cx="975.6" cy="392.3" r="3.0"/>
<circle cx="992.9" cy="397.6" r="3.0"/>
<circle cx="1049.4" cy="346.1" r="3.0"/>
<circle cx="1031.4" cy="354.9" r="3.0"/>
<circle cx="1032.7" cy="386.0" r="3.0"/>
<circle cx="1002.6" cy="375.5" r="3.0"/>
<circle cx="1029.7" cy="335.4" r="3.0"/>
<circle cx="1032.7" cy="343.2" r="3.0"/>
<circle cx="1027.8" cy="382.5" r="3.0"/>
<circle cx="1041.8" cy="387.0" r="3.0"/>
<circle cx="1013.4" cy="404.6" r="3.0"/>
<circle cx="1021.8" cy="398.1" r="3.0"/>
<circle cx="1017.6" cy="370.7" r="3.0"/>
<circle cx="1007.8" cy="398.1" r="3.0"/>
<circle cx="1038.4" cy="397.8" r="3.0"/>
<circle cx="1039.1" cy="375.9" r="3.0"/>
<circle cx="1041.1" cy="354.7" r="3.0"/>
<circle cx="1024.6" cy="337.7" r="3.0"/>
<circle cx="1032.2" cy="395.3" r="3.0"/>
<circle cx="1006.7" cy="390.9" r="3.0"/>
<circle cx="985.9" cy="386.7" r="3.0"/>
<circle cx="1021.9" cy="398.0" r="3.0"/>
<circle cx="973.1" cy="390.0" r="3.0"/>
<circle cx="1023.8" cy="336.0" r="3.0"/>
<circle cx="993.6" cy="399.4" r="3.0"/>
<circle cx="1050.1" cy="358.3" r="3.0"/>
<circle cx="982.8" cy="396.3" r="3.0"/>
<circle cx="1038.4" cy="355.3" r="3.0"/>
<circle cx="1037.1" cy="342.5" r="3.0"/>
<circle cx="1035.3" cy="400.5" r="3.0"/>
<circle cx="1036.8" cy="346.9" r="3.0"/>
<circle cx="1032.1" cy="389.9" r="3.0"/>
<circle cx="1001.6" cy="380.6" r="3.0"/>
<circle cx="991.6" cy="379.0" r="3.0"/>
<circle cx="1008.7" cy="370.9" r="3.0"/>
<circle cx="1025.3" cy="353.3" r="3.0"/>
<circle cx="988.9" cy="390.8" r="3.0"/>
<circle cx="1041.5" cy="350.5" r="3.0"/>
<circle cx="982.2" cy="397.6" r="3.0"/>
<circle cx="1010.9" cy="387.0" r="3.0"/>
<circle cx="1002.9" cy="399.9" r="3.0"/>
<circle cx="1020.7" cy="379.3" r="3.0"/>
<circle cx="1000.3" cy="380.3" r="3.0"/>
<circle cx="1044.4" cy="370.1" r="3.0"/>
<circle cx="1015.5" cy="393.8" r="3.0"/>
<circle cx="1034.1" cy="370.3" r="3.0"/>
<circle cx="1044.0" cy="344.6" r="3.0"/>
<circle cx="1026.2" cy="349.7" r="3.0"/>
<circle cx="1008.7" cy="388.6" r="3.0"/>
<circle cx="1044.8" cy="389.9" r="3.0"/>
<circle cx="1025.0" cy="384.4" r="3.0"/>
<circle cx="1022.5" cy="395.8" r="3.0"/>
<circle cx="990.2" cy="390.4" r="3.0"/>
<circle cx="970.4" cy="398.3" r="3.0"/>
<circle cx="1022.1" cy="372.0" r="3.0"/>
<circle cx="1045.3" cy="349.9" r="3.0"/>
<circle cx="1027.5" cy="370.7" r="3.0"/>
<circle cx="972.0" cy="392.0" r="3.0"/>
<circle cx="979.5" cy="382.6" r="3.0"/>
<circle cx="1049.4" cy="389.6" r="3.0"/>
<circle cx="1013.8" cy="387.7" r="3.0"/>
<circle cx="1010.2" cy="386.6" r="3.0"/>
<circle cx="1042.3" cy="385.8" r="3.0"/>
<circle cx="1010.9" cy="400.1" r="3.0"/>
<circle cx="1030.5" cy="336.9" r="3.0"/>
<circle cx="998.6" cy="382.9" r="3.0"/>
<circle cx="1052.9" cy="375.4" r="3.0"/>
<circle cx="1055.2" cy="366.1" r="3.0"/>
<circle cx="1003.7" cy="393.7" r="3.0"/>
<circle cx="1002.5" cy="389.2" r="3.0"/>
<circle cx="980.2" cy="411.1" r="3.0"/>
<circle cx="978.0" cy="417.6" r="3.0"/>
<circle cx="976.7" cy="406.5" r="3.0"/>
<circle cx="980.1" cy="415.0" r="3.0"/>
<circle cx="986.5" cy="414.3" r="3.0"/>
<circle cx="1024.3" cy="406.5" r="3.0"/>
<circle cx="991.6" cy="402.3" r="3.0"/>
<circle cx="1012.6" cy="411.6" r="3.0"/>
<circle cx="984.2" cy="400.6" r="3.0"/>
<circle cx="977.9" cy="408.4" r="3.0"/>
<circle cx="1014.2" cy="408.6" r="3.0"/>
<circle cx="990.1" cy="404.9" r="3.0"/>
<circle cx="1029.3" cy="411.5" r="3.0"/>
<circle cx="1017.6" cy="423.2" r="3.0"/>
<circle cx="1027.3" cy="400.7" r="3.0"/>
<circle cx="987.4" cy="412.3" r="3.0"/>
<circle cx="1000.9" cy="401.8" r="3.0"/>
<circle cx="992.3" cy="407.6" r="3.0"/>
<circle cx="968.3" cy="404.8" r="3.0"/>
<circle cx="1006.0" cy="401.0" r="3.0"/>
<circle cx="986.8" cy="413.6" r="3.0"/>
<circle cx="1002.5" cy="404.4" r="3.0"/>
<circle cx="1013.6" cy="408.3" r="3.0"/>
<circle cx="1014.9" cy="421.3" r="3.0"/>
<circle cx="975.5" cy="406.6" r="3.0"/>
<circle cx="993.1" cy="412.4" r="3.0"/>
<circle cx="1024.5" cy="407.2" r="3.0"/>
<circle cx="985.4" cy="411.0" r="3.0"/>
<circle cx="980.2" cy="401.3" r="3.0"/>
<circle cx="1004.0" cy="425.9" r="3.0"/>
<circle cx="1024.6" cy="407.5" r="3.0"/>
<circle cx="1008.6" cy="402.9" r="3.0"/>
<circle cx="994.6" cy="412.6" r="3.0"/>
<circle cx="969.6" cy="412.3" r="3.0"/>
<circle cx="987.8" cy="415.9" r="3.0"/>
<circle cx="984.6" cy="405.1" r="3.0"/>
<circle cx="992.9" cy="415.2" r="3.0"/>
<circle cx="981.8" cy="403.0" r="3.0"/>
<circle cx="988.8" cy="413.5" r="3.0"/>
<circle cx="1013.3" cy="417.7" r="3.0"/>
<circle cx="1013.2" cy="400.7" r="3.0"/>
<circle cx="992.2" cy="411.7" r="3.0"/>
<circle cx="969.8" cy="412.9" r="3.0"/>
<circle cx="1005.4" cy="415.0" r="3.0"/>
<circle cx="987.7" cy="408.1" r="3.0"/>
<circle cx="1026.2" cy="418.1" r="3.0"/>
<circle cx="978.2" cy="415.0" r="3.0"/>
<circle cx="1007.4" cy="430.5" r="3.0"/>
<circle cx="990.2" cy="418.4" r="3.0"/>
<circle cx="1008.2" cy="419.9" r="3.0"/>
<circle cx="993.5" cy="413.3" r="3.0"/>
<circle cx="1025.4" cy="412.2" r="3.0"/>
<circle cx="1027.4" cy="401.2" r="3.0"/>
<circle cx="974.8" cy="416.2" r="3.0"/>
<circle cx="986.5" cy="411.5" r="3.0"/>
<circle cx="1032.0" cy="404.8" r="3.0"/>
<circle cx="978.6" cy="407.3" r="3.0"/>
<circle cx="1011.8" cy="407.5" r="3.0"/>
<circle cx="992.3" cy="407.7" r="3.0"/>
<circle cx="999.1" cy="420.8" r="3.0"/>
<circle cx="1002.8" cy="420.0" r="3.0"/>
<circle cx="1003.7" cy="426.6" r="3.0"/>
<circle cx="1012.9" cy="422.0" r="3.0"/>
</g>
<polygon points="893.90,419.95 904.00,414.51 914.10,409.07 924.20,403.62 934.31,398.18 944.41,392.72 954.51,387.27 964.61,381.81 974.71,376.34 984.81,370.85 994.92,365.36 1005.02,359.83 1015.12,354.27 1025.22,348.64 1035.32,342.93 1045.42,337.08 1055.53,331.10 1065.63,324.98 1075.73,318.78 1085.83,312.51 1095.93,306.21 1106.04,299.88 1116.14,293.54 1126.24,287.18 1136.34,280.82 1146.44,274.45 1156.54,268.07 1166.64,261.69 1176.75,255.31 1186.85,248.92 1196.95,242.54 1207.05,236.15 1217.15,229.76 1227.25,223.37 1237.36,216.98 1247.46,210.59 1257.56,204.20 1267.66,197.80 1277.76,191.41 1287.87,185.02 1297.97,178.62 1308.07,172.23 1318.17,165.83 1328.27,159.44 1338.37,153.04 1348.47,146.65 1358.58,140.25 1368.68,133.86 1378.78,127.46 1388.88,121.06 1398.98,114.67 1409.09,108.27 1419.19,101.88 1429.29,95.48 1439.39,89.08 1449.49,82.69 1459.59,76.29 1469.70,69.89 1479.80,63.49 1489.90,57.10 1500.00,50.70 1500.00,94.50 1489.90,99.93 1479.80,105.36 1469.70,110.79 1459.59,116.22 1449.49,121.65 1439.39,127.08 1429.29,132.51 1419.19,137.94 1409.09,143.37 1398.98,148.80 1388.88,154.23 1378.78,159.66 1368.68,165.09 1358.58,170.52 1348.47,175.95 1338.37,181.38 1328.27,186.81 1318.17,192.25 1308.07,197.68 1297.97,203.11 1287.87,208.54 1277.76,213.98 1267.66,219.41 1257.56,224.84 1247.46,230.28 1237.36,235.71 1227.25,241.15 1217.15,246.58 1207.05,252.02 1196.95,257.46 1186.85,262.90 1176.75,268.34 1166.64,273.79 1156.54,279.24 1146.44,284.69 1136.34,290.14 1126.24,295.60 1116.14,301.07 1106.04,306.56 1095.93,312.05 1085.83,317.58 1075.73,323.14 1065.63,328.76 1055.53,334.48 1045.42,340.32 1035.32,346.30 1025.22,352.41 1015.12,358.61 1005.02,364.88 994.92,371.18 984.81,377.51 974.71,383.85 964.61,390.21 954.51,396.57 944.41,402.94 934.31,409.32 924.20,415.70 914.10,422.08 904.00,428.46 893.90,434.85" fill="#999" fill-opacity="0.32"/>
<line x1="893.9" y1="427.4" x2="1500" y2="72.6" stroke="#a5a6a9" stroke-width="1.9"/>
<line x1="859" x2="864" y1="442.20" y2="442.20" stroke="#333" stroke-width="2"/>
<text x="855" y="448.60" text-anchor="end" class="tk">0.00</text>
<line x1="859" x2="864" y1="342.90" y2="342.90" stroke="#333" stroke-width="2"/>
<text x="855" y="349.30" text-anchor="end" class="tk">0.25</text>
<line x1="859" x2="864" y1="243.60" y2="243.60" stroke="#333" stroke-width="2"/>
<text x="855" y="250.00" text-anchor="end" class="tk">0.50</text>
<line x1="859" x2="864" y1="144.30" y2="144.30" stroke="#333" stroke-width="2"/>
<text x="855" y="150.70" text-anchor="end" class="tk">0.75</text>
<line x1="859" x2="864" y1="45.00" y2="45.00" stroke="#333" stroke-width="2"/>
<text x="855" y="51.40" text-anchor="end" class="tk">1.00</text>
<line x1="975.40" x2="975.40" y1="483" y2="488" stroke="#333" stroke-width="2"/>
<text x="975.40" y="504.4" text-anchor="middle" class="tk">−400</text>
<line x1="1115.20" x2="1115.20" y1="483" y2="488" stroke="#333" stroke-width="2"/>
<text x="1115.20" y="504.4" text-anchor="middle" class="tk">−200</text>
<line x1="1255.00" x2="1255.00" y1="483" y2="488" stroke="#333" stroke-width="2"/>
<text x="1255.00" y="504.4" text-anchor="middle" class="tk">0</text>
<line x1="1394.80" x2="1394.80" y1="483" y2="488" stroke="#333" stroke-width="2"/>
<text x="1394.80" y="504.4" text-anchor="middle" class="tk">200</text>
<text y="66.6" class="rt">
<tspan x="894.90" y="66.6" font-style="italic">R</tspan>
<tspan x="913.30" y="68">=</tspan>
<tspan x="929.60" y="66.6">0.61,</tspan>
<tspan x="979.20" y="66.6" font-style="italic">p</tspan>
<tspan x="994.30" y="66.6">&lt;</tspan>
<tspan x="1011.50" y="66.6">2.2e−16</tspan>
</text>
<text x="985.5" y="551" class="at" textLength="384" lengthAdjust="spacingAndGlyphs">Anomaly score (patient-wise)</text>
<text transform="translate(805,435.8) rotate(-90)" x="0" y="0" class="at" textLength="311.6" lengthAdjust="spacingAndGlyphs">PRM airway disease (%)</text>
<text x="4.2" y="23.3" class="pl">A</text>
<text x="780" y="23.5" class="pl">B</text>
<circle cx="45" cy="160.4" r="0.8" fill="#666"/>
<circle cx="45" cy="181.2" r="0.8" fill="#666"/>
<circle cx="45" cy="270.4" r="0.8" fill="#666"/>
<ellipse cx="45" cy="248.4" rx="0.7" ry="1.3" fill="#555"/>
<ellipse cx="365.7" cy="513.6" rx="1.7" ry="0.85" fill="#111"/>
<circle cx="424" cy="513.3" r="1.0" fill="#111"/>
<ellipse cx="1137.7" cy="513.6" rx="1.7" ry="0.85" fill="#111"/>
<circle cx="1196" cy="513.3" r="1.0" fill="#111"/>
</svg></body></html>
